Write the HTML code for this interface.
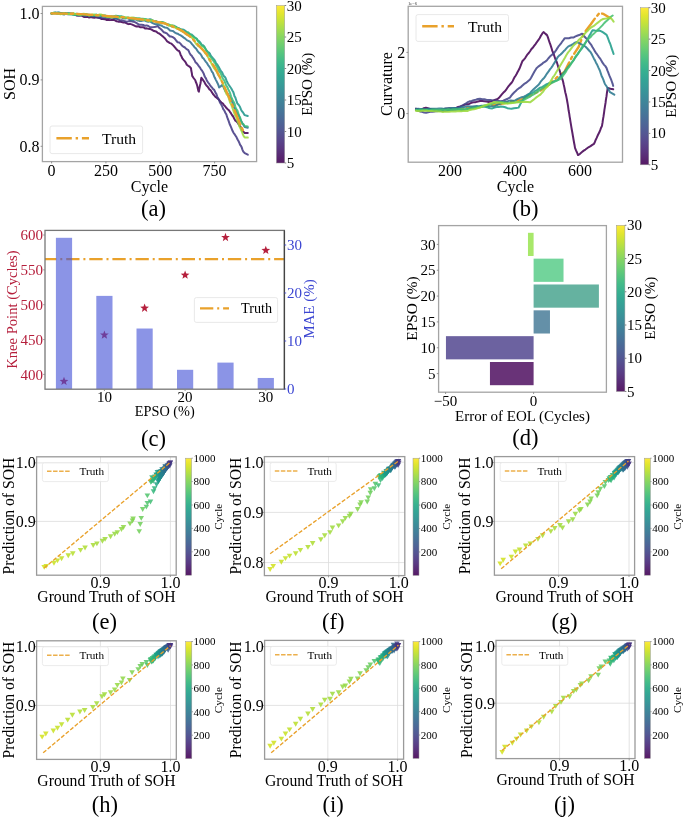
<!DOCTYPE html><html><head><meta charset="utf-8"><style>html,body{margin:0;padding:0;background:#fff;}svg{display:block;will-change:transform;filter:blur(0.25px);}text{font-family:"Liberation Serif", serif;}</style></head><body>
<svg width="685" height="818" viewBox="0 0 685 818">
<rect x="0" y="0" width="685" height="818" fill="#fff" stroke="none" stroke-width="1"/>
<defs><clipPath id="ca"><rect x="42.4" y="6.4" width="214.2" height="155.2"/></clipPath></defs>
<g clip-path="url(#ca)">
<polyline points="51.5,13.4 53.35,13.25 55.2,12.94 57.05,13.53 58.9,13.29 60.75,13.47 62.6,13.73 64.45,13.26 66.3,13.66 68.15,13.52 70,13.71 71.74,13.83 73.48,13.79 75.22,14.5 76.96,15.58 78.71,15.26 80.45,15.02 82.19,15.9 83.93,16.93 85.67,16.97 87.41,16.66 89.15,17.52 90.89,17.06 92.64,17.56 94.38,17.78 96.12,17.34 97.86,17.43 99.6,17.91 101.29,19.03 102.99,18.92 104.68,19.17 106.37,19.88 108.07,19.85 109.76,20.13 111.45,19.92 113.15,19.77 114.84,20.24 116.53,21.28 118.23,21.64 119.92,21.55 121.61,22.09 123.31,22.43 125,22.39 126.67,23.37 128.33,24.13 130,23.9 131.67,24.39 133.33,25.07 135,25.94 136.67,26.51 138.33,26.25 140,27.23 141.67,27.15 143.33,27.24 145,28.41 146.67,28.36 148.33,28.73 150,28.88 152.03,29.85 154.07,31.06 156.1,31.43 157.65,32.81 159.2,33.48 160.75,34.64 162.3,36 163.52,37.11 164.74,38.15 165.96,39.77 167.18,41.47 168.4,42.16 169.93,43.14 171.45,43.66 172.97,45.13 174.5,46.77 176.03,48.71 177.57,50.33 179.1,51 179.88,52.56 180.65,54.92 181.42,56.22 182.2,58.13 183.35,59.68 184.5,60.9 185.65,62.33 186.8,64.77 188.2,65.81 189.6,66.67 191,68.23 191.3,70.82 191.6,72.02 191.9,73.64 192.2,75.92 193.75,78.25 195.3,80.26 195.81,82.02 196.33,83.04 196.84,84.46 197.36,86.27 197.87,88.67 198.39,90.99 198.9,91.74 199.21,89.38 199.53,87.79 199.84,86.15 200.15,84.8 200.46,83.47 200.78,81.44 201.09,79.12 201.4,77.76 202.9,79.91 204.4,81.97 205.42,84.07 206.43,85.48 207.45,86.44 208.47,87.84 209.48,89.42 210.5,90.07 211.73,92.03 212.96,94.02 214.19,95.44 215.41,96.82 216.64,97.62 217.87,98.67 219.1,99.69 220.32,101.5 221.55,102.59 222.78,103.47 224,105.03 225.22,106.47 226.45,108.04 227.68,109.19 228.9,110.25 229.98,111.89 231.06,113.44 232.13,115.24 233.21,116.51 234.29,118.82 235.37,120.71 236.44,121.36 237.52,122.57 238.6,124.28 239.62,125.77 240.63,126.85 241.65,128.98 242.67,131.19 243.68,132.01 244.7,132.95 247.8,133" fill="none" stroke="#440154" stroke-width="2" stroke-linejoin="round" stroke-linecap="round" stroke-opacity="0.87"/>
<polyline points="51.5,13.4 53.35,12.91 55.2,12.63 57.05,13.02 58.9,13.19 60.75,13.93 62.6,13.6 64.45,12.89 66.3,14.06 68.15,14.37 70,13.56 71.74,13.92 73.48,13.77 75.22,14.15 76.96,15.36 78.71,15.78 80.45,15.64 82.19,15.09 83.93,15.03 85.67,15.03 87.41,15.83 89.15,16.22 90.89,16.51 92.64,16.31 94.38,15.96 96.12,16.81 97.86,17.74 99.6,17.89 101.29,17.93 102.99,18.13 104.68,18.26 106.37,17.73 108.07,17.88 109.76,18.14 111.45,17.79 113.15,17.72 114.84,18.27 116.53,18.69 118.23,19.46 119.92,20.41 121.61,20.19 123.31,20.61 125,21.33 126.67,21.74 128.33,21.35 130,21.05 131.67,21.35 133.33,21.73 135,22.12 136.67,23.1 138.33,24.24 140,24.82 141.67,24.71 143.33,25.03 145,25.79 146.67,25.39 148.33,25.93 150,27.18 151.93,27.23 153.85,27.08 155.77,26.69 157.7,26.06 159.23,27.87 160.77,29.07 162.3,30.55 163.82,32.27 165.34,32.74 166.86,33.32 168.38,35.12 169.9,36.39 171.45,36.61 173,37.22 174.55,38.36 176.1,40.53 177.62,42.21 179.15,42.4 180.67,43.87 182.2,45.82 183.42,46.75 184.64,47.28 185.86,48.49 187.08,49.34 188.3,50.03 189.45,52.72 190.6,54.66 191.75,55.74 192.9,57.7 193.82,58.93 194.74,60.61 195.66,62.48 196.58,63.17 197.5,64.22 198.65,65.83 199.8,67.33 200.95,69.26 202.1,70.66 202.87,72.11 203.63,73.41 204.4,75.72 205.17,77.2 205.93,78.38 206.7,80.17 208.1,82.61 209.12,83.67 210.13,85.31 211.15,86.62 212.17,87.71 213.18,89.14 214.2,89.89 214.96,91.53 215.72,93.1 216.49,94.18 217.25,96.61 218.01,98.02 218.78,99.4 219.54,101.54 220.3,103.07 221.06,104.14 221.83,105.72 222.59,107.46 223.35,109.32 224.11,110.16 224.88,111.68 225.64,113.2 226.4,114.48 227.08,116.92 227.76,118.76 228.43,120.35 229.11,122.42 229.79,124.55 230.47,125.82 231.14,127.39 231.82,129.15 232.5,130.82 233.52,132.7 234.53,134.17 235.55,135.7 236.57,137.33 237.58,139.53 238.6,141.25 239.36,142.95 240.12,144.87 240.89,145.7 241.65,147.17 242.41,149.61 243.17,151.49 243.94,152.15 244.7,153.18 247.8,154.7" fill="none" stroke="#443a83" stroke-width="2" stroke-linejoin="round" stroke-linecap="round" stroke-opacity="0.87"/>
<polyline points="51.5,13.4 53.35,13.36 55.2,12.86 57.05,12.8 58.9,12.77 60.75,13.45 62.6,14.16 64.45,14.45 66.3,13.61 68.15,13.74 70,14.2 71.74,13.6 73.48,14.25 75.22,15.14 76.96,14.36 78.71,14.8 80.45,14.84 82.19,14.6 83.93,15.47 85.67,15.83 87.41,14.94 89.15,14.84 90.89,15.31 92.64,15.28 94.38,15.07 96.12,15.23 97.86,16 99.6,15.56 101.29,15.82 102.99,16.3 104.68,15.81 106.37,16.02 108.07,16.85 109.76,17.13 111.45,16.6 113.15,17.59 114.84,18.31 116.53,18.54 118.23,17.73 119.92,17.34 121.61,17.35 123.31,18.3 125,18.44 126.79,18.05 128.57,18.56 130.36,19.7 132.14,20.25 133.93,19.68 135.71,19.28 137.5,20.44 139.29,20.9 141.07,21.01 142.86,20.56 144.64,20.23 146.43,21.27 148.21,21.72 150,21.27 151.84,22.7 153.68,23.66 155.52,24.22 157.36,24.02 159.2,25 161.12,25.42 163.05,26.55 164.97,27.48 166.9,27.75 168.42,28.85 169.94,30.45 171.46,30.83 172.98,30.99 174.5,32.31 176.04,33.2 177.58,33.69 179.12,34.57 180.66,35.39 182.2,36.41 183.74,37.61 185.28,38.62 186.82,40.13 188.36,40.83 189.9,41.62 191.05,42.9 192.2,44.36 193.35,45.6 194.5,47.15 196,48.57 197.5,50.85 199,52.77 200.15,53.66 201.3,55.24 202.45,57.63 203.6,58.46 204.75,60.22 205.9,61.89 207.05,63.18 208.2,65.24 209.12,66.47 210.04,67.75 210.96,69.61 211.88,71.68 212.8,72.62 213.43,74.3 214.07,76.17 214.7,77.56 215.33,78.79 215.97,80.11 216.6,81.28 217.43,82.95 218.27,84.77 219.1,87.44 220.6,86.44 222.1,84.94 223.18,86.31 224.25,88.78 225.32,91.04 226.4,92.35 227.38,93.36 228.36,94.67 229.34,96.4 230.32,98.36 231.3,99.81 232,101.5 232.7,103.08 233.4,105.42 234.1,107.62 234.8,108.64 235.5,109.43 236.2,111.69 237.02,113.09 237.83,114.21 238.65,115.42 239.47,117.24 240.28,119.33 241.1,121.08 242,122.38 242.9,124.19 243.8,125.48 244.7,127.05 247.8,127.8" fill="none" stroke="#2e6f8e" stroke-width="2" stroke-linejoin="round" stroke-linecap="round" stroke-opacity="0.87"/>
<polyline points="51.5,13.4 53.31,12.9 55.12,12.98 56.92,12.82 58.73,12.52 60.54,12.91 62.35,13.11 64.15,13.55 65.96,13.82 67.77,14.1 69.58,14.21 71.38,14.25 73.19,14.55 75,14.09 76.76,13.67 78.51,14.59 80.27,14.16 82.03,14.29 83.79,14.79 85.54,14.02 87.3,14.64 89.06,15.51 90.81,15.31 92.57,15.32 94.33,15.62 96.09,14.9 97.84,14.91 99.6,15.33 101.41,15.9 103.23,16.3 105.04,16.45 106.86,16.3 108.67,16.64 110.49,16.79 112.3,16.77 114.11,16.31 115.93,15.79 117.74,15.9 119.56,16.44 121.37,16.46 123.19,17.35 125,17.77 126.79,17.81 128.57,18.06 130.36,18.33 132.14,18.32 133.93,17.7 135.71,18.51 137.5,19.34 139.29,19.17 141.07,19.18 142.86,19.57 144.64,19.09 146.43,19.64 148.21,19.79 150,19.32 151.7,19.76 153.4,20.89 155.1,20.95 156.8,21.53 158.5,22.66 160.2,22.58 161.9,22.35 163.6,22.72 165.3,23.42 167.01,24.38 168.72,24.92 170.43,25.49 172.14,25.43 173.86,25.7 175.57,26.56 177.28,27.97 178.99,28.49 180.7,29.12 182.23,29.37 183.76,29.71 185.29,30.78 186.81,32.25 188.34,33.39 189.87,34.14 191.4,34.38 192.71,35.49 194.03,36.78 195.34,37.9 196.66,38.6 197.97,40.47 199.29,41.39 200.6,42.97 201.82,45.08 203.04,45.31 204.26,46.56 205.48,48.91 206.7,50.9 207.77,51.77 208.84,52.51 209.91,53.7 210.99,56.05 212.06,57.15 213.13,58.42 214.2,59.6 215.18,61.18 216.16,63.54 217.14,64.29 218.12,65.94 219.1,67.59 220.08,69.54 221.06,71.35 222.04,72.28 223.02,74.47 224,76.23 224.82,76.89 225.63,78.09 226.45,80.35 227.27,82.36 228.08,83.76 228.9,85.05 230.1,86.78 231.3,88.52 232.5,90.79 233.2,91.9 233.9,93.91 234.6,96.44 235.3,97.33 236,99.51 236.7,101.7 237.4,103.52 238.31,104.46 239.22,105.62 240.14,107.31 241.05,109.71 241.96,111.29 242.88,112.22 243.79,113.69 244.7,115.14 247.8,116" fill="none" stroke="#1f958b" stroke-width="2" stroke-linejoin="round" stroke-linecap="round" stroke-opacity="0.87"/>
<polyline points="51.5,13.4 53.31,12.84 55.12,12.55 56.92,13.61 58.73,13.57 60.54,13.98 62.35,13.68 64.15,13.14 65.96,13.52 67.77,13.35 69.58,13.34 71.38,14.31 73.19,14.77 75,14.65 76.76,14.45 78.51,14.78 80.27,15.17 82.03,14.78 83.79,14.77 85.54,14.14 87.3,14.56 89.06,14.9 90.81,15.15 92.57,15.38 94.33,14.92 96.09,14.4 97.84,15.46 99.6,15.28 101.41,15.19 103.23,15.47 105.04,15.45 106.86,16.14 108.67,16.99 110.49,16.4 112.3,16.44 114.11,16.47 115.93,16.65 117.74,16.81 119.56,16.52 121.37,16.46 123.19,16.67 125,17.78 126.79,18.05 128.57,17.53 130.36,18.39 132.14,19.31 133.93,18.87 135.71,18.18 137.5,18.18 139.29,18.29 141.07,18.73 142.86,18.82 144.64,19 146.43,19.35 148.21,19.98 150,20.87 151.7,21.31 153.4,21.09 155.1,21.14 156.8,21.63 158.5,21.88 160.2,22.04 161.9,21.99 163.6,22.38 165.3,23.82 167.01,24 168.72,24.43 170.43,25.61 172.14,26.7 173.86,26.73 175.57,26.91 177.28,27.61 178.99,28.47 180.7,29.34 182.23,30.82 183.76,31.9 185.29,32.61 186.81,32.28 188.34,32.32 189.87,33.99 191.4,35.61 192.71,36.41 194.03,37.39 195.34,37.92 196.66,39.12 197.97,41.37 199.29,42.91 200.6,44.06 201.82,45.78 203.04,46.46 204.26,47.18 205.48,48.66 206.7,50.73 207.75,52.76 208.8,54.74 209.85,56.18 210.9,57.39 211.95,58.98 213,60.18 213.98,61.75 214.96,62.88 215.94,65.13 216.92,66.78 217.9,68.92 218.72,70.78 219.53,71.7 220.35,72.79 221.17,74.41 221.98,76.64 222.8,78.68 223.6,79.6 224.4,80.66 225.2,82.85 226,84.96 226.8,86.39 227.6,87.64 228.3,89.56 229,90.69 229.7,92.12 230.4,94.16 231.1,96.53 231.8,98.12 232.5,99.73 233.2,101.15 233.9,102.21 234.6,103.76 235.3,106.46 236,108.49 236.7,109.48 237.4,110.5 238.1,112.62 238.8,115.01 239.5,116.58 240.2,117.88 240.9,120.02 241.6,122.47 242.3,123.51 243.5,124.19 244.7,125.98 247.8,126.6" fill="none" stroke="#3bbb75" stroke-width="2" stroke-linejoin="round" stroke-linecap="round" stroke-opacity="0.87"/>
<polyline points="51.5,13.4 53.31,13.33 55.12,13.65 56.92,13.28 58.73,13.68 60.54,14.17 62.35,13.85 64.15,13.28 65.96,14.07 67.77,13.91 69.58,14.04 71.38,13.75 73.19,13.26 75,14 76.76,13.97 78.51,14.53 80.27,14.61 82.03,13.91 83.79,13.8 85.54,14.19 87.3,14.8 89.06,15.49 90.81,14.79 92.57,14.52 94.33,14.61 96.09,15.56 97.84,15.24 99.6,14.49 101.41,14.58 103.23,15.19 105.04,16.3 106.86,16.89 108.67,16.83 110.49,17.2 112.3,17.51 114.11,16.81 115.93,16.25 117.74,17.27 119.56,17.84 121.37,16.88 123.19,17.25 125,17.58 126.79,17.53 128.57,17.68 130.36,17.64 132.14,17.48 133.93,17.91 135.71,18.45 137.5,19.52 139.29,19.16 141.07,19.75 142.86,19.69 144.64,19.43 146.43,20.38 148.21,21 150,20.69 151.7,20.19 153.4,20.76 155.1,21.34 156.8,22.32 158.5,22.19 160.2,22.12 161.9,23.32 163.6,22.98 165.3,23.07 167.01,24.64 168.72,25.65 170.43,25.36 172.14,25.43 173.86,26.17 175.57,28.04 177.28,28.63 178.99,29.4 180.7,30.74 182.23,31.21 183.76,31.7 185.29,33.62 186.81,34.84 188.34,35.15 189.87,36.51 191.4,37.45 192.5,38.34 193.6,39.25 194.7,41.3 195.8,43.47 196.9,44.54 198,46 199.55,46.44 201.1,47.28 202.65,49.16 204.2,51.38 205.08,53.29 205.96,54.03 206.83,54.84 207.71,56.44 208.59,58.17 209.47,60.29 210.34,61.18 211.22,62.83 212.1,64.78 212.96,66.32 213.82,67.8 214.68,69.02 215.54,69.99 216.4,71.21 217.25,72.79 218.1,74.92 218.95,75.89 219.8,76.96 220.65,79.33 221.5,80.69 222.2,81.75 222.9,83.29 223.6,85.69 224.3,87.59 225,89.99 225.7,92.19 226.4,93.98 227.1,94.86 227.8,95.73 228.5,97.33 229.2,99.61 229.9,101.99 230.6,103.57 231.3,104.8 232,106.6 232.7,108.77 233.4,110.76 234.1,112.65 234.8,114.59 235.5,116.18 236.2,117.04 236.81,119.19 237.42,120.78 238.04,122.33 238.65,123.99 239.26,125.98 239.88,127.26 240.49,128.53 241.1,130.24 242,131.82 242.9,134.4 243.8,136.34 244.7,137.44 247.8,137.6" fill="none" stroke="#9bd93c" stroke-width="2" stroke-linejoin="round" stroke-linecap="round" stroke-opacity="0.87"/>
<polyline points="51.5,13.4 75,13.8 99.6,15.4 125,17.5 150,20.4 165.3,23.6 180.7,30 191.4,37.5 195,41.6 201.1,48.3 206,53.2 210.3,60.6 215.2,67.9 220.7,78.9 225.2,88.5 230.1,99.8 235,111.3 239.9,123.5 244.1,132.7" fill="none" stroke="#e9a12b" stroke-width="2.3" stroke-linejoin="round" stroke-linecap="round" stroke-dasharray="15.4 3.85 2.4 3.85" stroke-linecap="butt"/>
</g>
<rect x="42.4" y="6.4" width="214.2" height="155.2" fill="none" stroke="#a4a4a4" stroke-width="1.3"/>
<line x1="51.6" y1="161.6" x2="51.6" y2="163.4" stroke="#888" stroke-width="0.9"/>
<text x="51.6" y="176.3" font-size="16" text-anchor="middle" fill="#000">0</text>
<line x1="105.93" y1="161.6" x2="105.93" y2="163.4" stroke="#888" stroke-width="0.9"/>
<text x="105.93" y="176.3" font-size="16" text-anchor="middle" fill="#000">250</text>
<line x1="160.26" y1="161.6" x2="160.26" y2="163.4" stroke="#888" stroke-width="0.9"/>
<text x="160.26" y="176.3" font-size="16" text-anchor="middle" fill="#000">500</text>
<line x1="214.59" y1="161.6" x2="214.59" y2="163.4" stroke="#888" stroke-width="0.9"/>
<text x="214.59" y="176.3" font-size="16" text-anchor="middle" fill="#000">750</text>
<line x1="40.6" y1="13.5" x2="42.4" y2="13.5" stroke="#888" stroke-width="0.9"/>
<text x="39.6" y="18.9" font-size="16" text-anchor="end" fill="#000">1.0</text>
<line x1="40.6" y1="79.9" x2="42.4" y2="79.9" stroke="#888" stroke-width="0.9"/>
<text x="39.6" y="85.3" font-size="16" text-anchor="end" fill="#000">0.9</text>
<line x1="40.6" y1="146.3" x2="42.4" y2="146.3" stroke="#888" stroke-width="0.9"/>
<text x="39.6" y="151.7" font-size="16" text-anchor="end" fill="#000">0.8</text>
<text x="149.5" y="192" font-size="16" text-anchor="middle" fill="#000">Cycle</text>
<text x="14.7" y="84" font-size="16" text-anchor="middle" fill="#000" transform="rotate(-90 14.7 84)">SOH</text>
<rect x="50" y="126" width="92.6" height="27.6" rx="2" ry="2" fill="#fff" fill-opacity="0.8" stroke="#e2e2e2" stroke-width="0.8"/>
<line x1="56.4" y1="138.3" x2="89" y2="138.3" stroke="#e9a12b" stroke-width="2.6" stroke-dasharray="15.4 3.85 2.4 3.85"/>
<text x="102" y="143.6" font-size="15.6" text-anchor="start" fill="#000">Truth</text>
<defs><linearGradient id="ga" x1="0" y1="1" x2="0" y2="0">
<stop offset="0" stop-color="#440154"/>
<stop offset="0.05" stop-color="#471365"/>
<stop offset="0.1" stop-color="#482475"/>
<stop offset="0.15" stop-color="#463480"/>
<stop offset="0.2" stop-color="#414487"/>
<stop offset="0.25" stop-color="#3b528b"/>
<stop offset="0.3" stop-color="#355f8d"/>
<stop offset="0.35" stop-color="#2f6c8e"/>
<stop offset="0.4" stop-color="#2a788e"/>
<stop offset="0.45" stop-color="#25848e"/>
<stop offset="0.5" stop-color="#21918c"/>
<stop offset="0.55" stop-color="#1e9c89"/>
<stop offset="0.6" stop-color="#22a884"/>
<stop offset="0.65" stop-color="#2fb47c"/>
<stop offset="0.7" stop-color="#44bf70"/>
<stop offset="0.75" stop-color="#5ec962"/>
<stop offset="0.8" stop-color="#7ad151"/>
<stop offset="0.85" stop-color="#9bd93c"/>
<stop offset="0.9" stop-color="#bddf26"/>
<stop offset="0.95" stop-color="#dfe318"/>
<stop offset="1" stop-color="#fde725"/>
</linearGradient></defs>
<rect x="276.4" y="5.5" width="8.3" height="157.5" fill="url(#ga)" stroke="#999" stroke-width="0.5" fill-opacity="0.9"/>
<line x1="284.7" y1="163" x2="286.2" y2="163" stroke="#666" stroke-width="0.8"/>
<text x="286.8" y="168.1" font-size="15" text-anchor="start" fill="#000">5</text>
<line x1="284.7" y1="131.5" x2="286.2" y2="131.5" stroke="#666" stroke-width="0.8"/>
<text x="286.8" y="136.6" font-size="15" text-anchor="start" fill="#000">10</text>
<line x1="284.7" y1="100" x2="286.2" y2="100" stroke="#666" stroke-width="0.8"/>
<text x="286.8" y="105.1" font-size="15" text-anchor="start" fill="#000">15</text>
<line x1="284.7" y1="68.5" x2="286.2" y2="68.5" stroke="#666" stroke-width="0.8"/>
<text x="286.8" y="73.6" font-size="15" text-anchor="start" fill="#000">20</text>
<line x1="284.7" y1="37" x2="286.2" y2="37" stroke="#666" stroke-width="0.8"/>
<text x="286.8" y="42.1" font-size="15" text-anchor="start" fill="#000">25</text>
<line x1="284.7" y1="5.5" x2="286.2" y2="5.5" stroke="#666" stroke-width="0.8"/>
<text x="286.8" y="10.6" font-size="15" text-anchor="start" fill="#000">30</text>
<text x="312" y="84.3" font-size="15" text-anchor="middle" fill="#000" transform="rotate(-90 312 84.3)">EPSO (%)</text>
<text x="153.4" y="215.6" font-size="22.5" text-anchor="middle" fill="#000">(a)</text>
<defs><clipPath id="cb"><rect x="408.2" y="6.3" width="214.3" height="155.9"/></clipPath></defs>
<g clip-path="url(#cb)">
<polyline points="416,110 450,110 480,107 500,104 520,100 540,91 550,84 557.6,76.8 564.6,71.6 571.6,57.6 578.6,47 583.8,33.5 590.8,24.3 595.2,18.1 599.6,12.9 603.1,13.8 610.1,18.1" fill="none" stroke="#e9a12b" stroke-width="2.4" stroke-linejoin="round" stroke-linecap="round" stroke-dasharray="15.4 3.85 2.4 3.85" stroke-linecap="butt"/>
<polyline points="416,108.6 418,109.13 420,110.08 421.93,109.29 423.87,108.16 425.8,107.69 427.9,108.32 430,108.95 432.1,108.99 434.2,109.33 436.3,110.2 438.49,110.14 440.68,109.97 442.86,109.2 445.05,108.76 447.24,108.53 449.43,108.28 451.61,108.6 453.8,108.46 456,107.85 458.2,106.95 460.4,106.36 462.6,105.63 464.78,104.67 466.95,104.28 469.12,103.97 471.3,102.84 473.48,102.37 475.65,102.17 477.82,101.49 480,100.99 482.2,101.11 484.4,101.25 486.6,101.51 488.8,101.96 491,101.49 493.2,100.57 495.4,99.6 497.6,99.07 499,97.86 500.4,96.11 501.8,94.4 503.2,92.8 504.6,91.56 506,89.92 507.4,87.75 508.8,85.82 510.2,84.3 511.6,82.79 512.6,81.16 513.6,79.08 514.6,77.13 515.6,75.75 516.6,74.04 517.6,72.07 518.6,70.28 519.38,68.83 520.16,66.82 520.94,64.82 521.72,62.92 522.5,60.98 523.76,59.68 525.01,58.33 526.27,56.34 527.53,54.33 528.79,52.97 530.04,51.23 531.3,49.24 532.7,47.81 534.1,45.95 535.5,44.06 536.9,42.02 538.3,40.21 539.6,38.19 540.9,35.86 542.2,33.68 543.5,32.02 545.25,33.62 547,35.13 547.66,36.68 548.33,38.65 548.99,40.69 549.65,42.65 550.31,44.44 550.97,46.35 551.64,48.54 552.3,50.89 553.06,52.53 553.81,54.42 554.57,56.8 555.33,59.04 556.09,60.61 556.84,62.22 557.6,64.73 558.25,67.07 558.9,68.72 559.55,70.19 560.2,72.53 560.85,74.53 561.5,76.59 562.15,78.59 562.8,80.57 563.22,82.19 563.64,84.28 564.06,86.15 564.48,87.99 564.9,90.34 565.32,92.49 565.74,94.03 566.16,95.73 566.58,97.84 567,99.97 567.33,102.01 567.67,103.87 568,105.92 568.33,108.37 568.67,110.78 569,112.37 569.33,114.42 569.67,116.86 570,118.56 570.33,120.85 570.67,122.81 571,124.9 571.36,127.17 571.73,129.29 572.09,131.2 572.45,133.23 572.82,135.47 573.18,137.53 573.55,139.71 573.91,141.76 574.27,143.75 574.64,145.57 575,147.87 576,150.38 577,152.49 578,155.06 580,153.8 582,152.1 583.71,150.63 585.43,149.56 587.14,148.3 588.86,147.01 590.57,146.08 592.29,144.84 594,143.78 594.89,141.98 595.78,139.7 596.67,137.89 597.56,135.78 598.44,133.97 599.33,132.29 600.22,130.13 601.11,127.71 602,125.81 602.3,123.92 602.6,122.24 602.9,119.96 603.2,118.08 603.5,116.48 603.8,114.37 604.1,112.31 604.4,109.94 604.7,108.18 605,106.21 605.3,104.3 605.6,102.48 605.9,99.96 606.2,98.04 606.5,96.41 606.8,93.9 607.1,91.71 607.4,90.1 607.7,87.89 610.45,88.71 613.2,89.2" fill="none" stroke="#440154" stroke-width="2" stroke-linejoin="round" stroke-linecap="round" stroke-opacity="0.87"/>
<polyline points="416,110 418,110.5 420,111.41 422,111.85 424,112.44 426.1,112.7 428.2,112.23 430.3,111.78 432.4,111.78 434.5,111.58 436.6,111.13 438.7,110.93 440.8,110.8 442.9,111.12 445,111.11 447,110.64 449,109.76 451,109.34 453,108.67 455,108.15 457,107.9 459,107.27 460.77,106.47 462.53,105.47 464.3,104.33 466.07,103.52 467.83,102.12 469.6,101.35 471.68,100.96 473.76,100.11 475.84,99.73 477.92,99.02 480,98.72 482.12,99.13 484.24,99.16 486.36,99.69 488.48,100.02 490.6,100.06 492.68,100.5 494.76,100.47 496.84,100.85 498.92,101 501,101.18 503.23,100.71 505.45,99.72 507.67,98.72 509.9,97.65 511.3,95.71 512.7,94.01 514.1,92.52 515.5,91.3 516.9,89.81 518.65,88.45 520.4,87.42 522.15,85.76 523.9,84.16 525.93,82.98 527.97,81.25 530,79.46 531.08,77.7 532.17,75.71 533.25,73.78 534.33,71.82 535.42,70.02 536.5,68.2 538.25,66.63 540,65.42 541.75,64.19 543.5,62.58 545.25,61.64 547,60.22 548.47,58.26 549.93,56.58 551.4,55.31 552.87,54.11 554.33,52.55 555.8,50.66 557.06,48.64 558.31,46.66 559.57,45.21 560.83,43.68 562.09,41.74 563.34,40.09 564.6,38.33 566.77,38.34 568.95,38.2 571.12,37.56 573.3,37.56 575.5,36.4 577.7,35.47 579.9,34.73 582.1,33.69 583.5,35.07 584.9,37.05 586.3,38.44 587.7,40.04 589.1,42.11 590.2,43.51 591.3,44.94 592.4,46.99 593.5,48.85 594.6,50.65 595.7,52.57 596.8,53.97 597.9,55.53 599.14,57.34 600.39,58.93 601.63,61.13 602.87,63.19 604.11,64.85 605.36,66.11 606.6,68.11 607.36,70.41 608.11,72.18 608.87,74.24 609.63,76.18 610.39,77.9 611.14,79.72 611.9,81.75 612.55,83.58 613.2,85.9" fill="none" stroke="#414487" stroke-width="2" stroke-linejoin="round" stroke-linecap="round" stroke-opacity="0.87"/>
<polyline points="416,109 418.1,108.85 420.2,109.01 422.3,109.12 424.4,109.16 426.5,109.1 428.6,108.71 430.7,108.66 432.8,108.67 434.9,108.81 437,108.75 439.1,108.43 441.2,108.52 443.3,108.86 445.4,108.47 447.5,108.54 449.6,108.23 451.7,107.97 453.8,108.02 455.8,108.07 457.8,108.16 459.8,107.84 461.8,107.21 463.8,107.12 465.8,106.73 467.8,106.15 470.06,106.43 472.31,106.41 474.57,106.2 476.83,106.08 479.09,106.15 481.34,105.82 483.6,105.71 485.7,105.96 487.8,106.18 489.9,106.16 492,106.34 494.1,106.55 496.2,105.42 498.3,104.37 500.4,103.71 502.5,102.66 504.6,102.09 506.7,101.61 508.8,100.85 510.9,100.51 513,100.75 515.1,100.39 517.3,99.12 519.5,98.08 521.7,97.17 523.9,96.73 525.93,95.71 527.97,94.46 530,93.24 531.66,91.16 533.32,89.55 534.98,87.97 536.64,86.51 538.3,85.05 539.61,83.46 540.92,81.31 542.24,79.84 543.55,78.59 544.86,76.99 546.17,74.81 547.49,72.87 548.8,71.21 549.9,69.37 551,68.12 552.1,66.71 553.2,64.83 554.3,63.12 555.4,61.33 556.5,59.27 557.6,57.24 559.1,55.64 560.6,54.56 562.1,52.98 563.6,51.29 565.1,49.9 566.6,48.16 568.1,46.63 569.84,45.71 571.58,44.97 573.32,43.89 575.06,42.66 576.8,42.03 579.13,43.17 581.47,44.37 583.8,45.53 585.55,46.79 587.3,48.54 589.05,50.47 590.8,52.45 591.81,54.32 592.83,56.37 593.84,58.42 594.86,60.13 595.87,62.41 596.89,64.19 597.9,66.33 598.68,68.17 599.46,69.71 600.23,71.72 601.01,74.12 601.79,76.45 602.57,77.85 603.34,79.69 604.12,81.85 604.9,83.99 606.17,85.77 607.45,87.76 608.73,89.85 610,92.15 612.15,93.34 614.3,94.7" fill="none" stroke="#2a788e" stroke-width="2" stroke-linejoin="round" stroke-linecap="round" stroke-opacity="0.87"/>
<polyline points="416,110 418.03,110.29 420.05,110.05 422.08,109.72 424.1,110.01 426.13,110.09 428.16,109.74 430.18,109.92 432.21,109.78 434.23,110.01 436.26,110.26 438.29,110.28 440.31,110.21 442.34,109.96 444.37,109.87 446.39,109.89 448.42,110.21 450.44,109.9 452.47,110.07 454.5,109.86 456.52,109.6 458.55,109.71 460.57,110.16 462.6,110.18 464.78,109.47 466.95,109.3 469.12,108.64 471.3,108.06 473.48,107.75 475.65,107.48 477.82,107.13 480,106.61 482.05,106.66 484.1,106.82 486.15,107 488.2,107.67 490.25,108.16 492.3,108.43 494.48,107.64 496.65,107.11 498.82,107 501,106.57 503.12,106.71 505.24,107.25 507.36,108.2 509.48,108.48 511.6,108.68 513.93,108.17 516.27,107.91 518.6,107.62 519.66,105.46 520.72,103.4 521.78,101.7 522.84,100.03 523.9,98.44 525.93,96.85 527.97,95.37 530,93.92 531.7,93.32 533.4,92.45 535.1,90.87 536.8,90.11 538.5,88.86 540.2,87.61 541.9,87.08 543.6,86.16 545.3,84.98 547.35,84.03 549.4,83 551.45,82.46 553.5,81.57 555.55,80.67 557.6,80.1 558.87,78.35 560.15,76.85 561.42,75.67 562.69,74.19 563.96,72.43 565.24,70.84 566.51,69.2 567.78,67.32 569.05,65.89 570.33,64.37 571.6,62.92 572.82,61.43 574.04,59.43 575.26,57.57 576.48,56 577.7,54.11 578.92,52.09 580.14,50.58 581.36,49.15 582.58,47.4 583.8,45.55 584.9,43.76 586,41.85 587.1,39.88 588.2,37.88 589.3,35.84 590.4,34.13 591.5,32.05 592.6,30.17 594.93,30.55 597.27,30.66 599.6,30.58 601.35,31.39 603.1,32.44 604.85,33.64 606.6,34.86 607.48,36.97 608.35,39.23 609.23,41.69 610.1,43.48 610.8,45.56 611.5,47.95 612.2,49.85 612.9,51.84 613.6,54" fill="none" stroke="#1e9c89" stroke-width="2" stroke-linejoin="round" stroke-linecap="round" stroke-opacity="0.87"/>
<polyline points="416,110 418.05,110.28 420.1,109.83 422.14,109.71 424.19,109.65 426.24,109.85 428.29,110.19 430.34,109.95 432.39,109.45 434.43,109.54 436.48,109.69 438.53,109.75 440.58,109.66 442.63,109.62 444.67,109.76 446.72,109.6 448.77,109.36 450.82,109.63 452.87,109.34 454.91,109.29 456.96,109.27 459.01,109.35 461.06,109.05 463.11,109.3 465.16,109.23 467.2,108.72 469.25,108.69 471.3,108.83 473.24,108.16 475.19,107.78 477.13,107.48 479.08,107.18 481.02,106.6 482.97,105.91 484.91,105.37 486.86,105.22 488.8,105.1 491,104.24 493.2,103.18 495.4,102.75 497.6,102.06 499.7,101.94 501.8,101.99 503.9,102.56 506,103.05 508.1,103.12 510.2,102.76 512.3,102.57 514.4,102.21 516.5,102.37 518.6,102.11 520.5,101.16 522.4,100.54 524.3,99.75 526.2,98.65 528.1,97.52 530,96.74 531.67,95.44 533.33,94.59 535,93.45 536.67,92.43 538.33,91.13 540,89.82 541.75,88.75 543.5,87.78 545.25,86.66 547,85.4 548.75,84.76 550.5,83.75 552.62,82.5 554.74,81.48 556.86,80.58 558.98,79.58 561.1,78.66 562.27,77.02 563.43,75.08 564.6,73.57 565.77,72.02 566.93,69.71 568.1,68.12 569.27,66.76 570.43,64.97 571.6,62.74 572.77,61.16 573.93,59.58 575.1,57.34 576.32,55.3 577.54,54.16 578.76,52.62 579.98,50.46 581.2,48.43 582.42,46.63 583.64,44.95 584.86,43.59 586.08,41.78 587.3,39.7 588.84,38.59 590.38,37.32 591.91,35.33 593.45,34.01 594.99,32.62 596.52,31.08 598.06,29.56 599.6,28.13 601.1,26.66 602.6,25.15 604.1,23.25 605.6,21.79 607.1,20.41 608.6,18.97 610.1,17.37 612.7,15.5" fill="none" stroke="#44bf70" stroke-width="2" stroke-linejoin="round" stroke-linecap="round" stroke-opacity="0.87"/>
<polyline points="416,110.8 418.07,111.12 420.14,111.13 422.21,110.86 424.29,110.78 426.36,110.77 428.43,111.02 430.5,110.96 432.57,111.1 434.64,111.13 436.71,111.28 438.79,111.5 440.86,111.6 442.93,111.89 445,111.53 447.07,111.63 449.15,111.67 451.22,111.48 453.29,111.51 455.36,111.59 457.44,111.28 459.51,111.02 461.58,111.31 463.65,110.89 465.73,110.79 467.8,110.95 469.83,109.97 471.87,109.5 473.9,109.22 475.93,108.83 477.97,107.96 480,107.54 482.01,106.76 484.03,105.78 486.04,105.28 488.06,104.14 490.07,103.45 492.09,102.94 494.1,101.95 496.1,102.42 498.1,102.59 500.1,102.7 502.1,103.03 504.1,103.48 506.1,103.47 508.1,103.63 510.3,103.27 512.5,102.9 514.7,102.69 516.9,102.01 519.08,102.13 521.27,102.08 523.45,101.96 525.63,101.85 527.82,101.9 530,102.32 531.67,101.14 533.33,99.93 535,98.52 536.67,97.14 538.33,95.95 540,94.97 541.47,93.41 542.93,91.81 544.4,89.67 545.87,88.08 547.33,86.77 548.8,84.9 549.9,82.56 551,80.65 552.1,78.7 553.2,76.83 554.3,75.53 555.4,73.78 556.5,71.81 557.6,70.06 558.65,68.45 559.7,66.55 560.75,64.68 561.8,62.94 562.85,61.24 563.9,59.45 564.95,57.71 566,55.69 567.05,54.03 568.1,52.35 569.41,50.92 570.73,49.08 572.04,47.3 573.35,45.7 574.66,44.59 575.98,43.47 577.29,41.82 578.6,39.98 580.12,38.63 581.65,37.28 583.17,35.59 584.7,33.77 586.23,32.14 587.75,30.71 589.27,29.17 590.8,27.67 592.56,26.61 594.31,25.63 596.07,23.93 597.83,22.62 599.59,21.24 601.34,19.8 603.1,19.04 605.43,18.62 607.77,18.18 610.1,17.45 611.85,19.11 613.6,21.6" fill="none" stroke="#9bd93c" stroke-width="2" stroke-linejoin="round" stroke-linecap="round" stroke-opacity="0.87"/>
</g>
<rect x="408.2" y="6.3" width="214.3" height="155.9" fill="none" stroke="#a4a4a4" stroke-width="1.3"/>
<line x1="450" y1="162.2" x2="450" y2="164" stroke="#888" stroke-width="0.9"/>
<text x="450" y="176.3" font-size="16" text-anchor="middle" fill="#000">200</text>
<line x1="515" y1="162.2" x2="515" y2="164" stroke="#888" stroke-width="0.9"/>
<text x="515" y="176.3" font-size="16" text-anchor="middle" fill="#000">400</text>
<line x1="580" y1="162.2" x2="580" y2="164" stroke="#888" stroke-width="0.9"/>
<text x="580" y="176.3" font-size="16" text-anchor="middle" fill="#000">600</text>
<line x1="406.4" y1="113.6" x2="408.2" y2="113.6" stroke="#888" stroke-width="0.9"/>
<text x="405.2" y="119" font-size="16" text-anchor="end" fill="#000">0</text>
<line x1="406.4" y1="52.4" x2="408.2" y2="52.4" stroke="#888" stroke-width="0.9"/>
<text x="405.2" y="57.8" font-size="16" text-anchor="end" fill="#000">2</text>
<text x="515.5" y="192" font-size="16" text-anchor="middle" fill="#000">Cycle</text>
<text x="392.4" y="84.1" font-size="16" text-anchor="middle" fill="#000" transform="rotate(-90 392.4 84.1)">Curvature</text>
<rect x="416" y="14.6" width="92.5" height="26.8" rx="2" ry="2" fill="#fff" fill-opacity="0.8" stroke="#e2e2e2" stroke-width="0.8"/>
<line x1="422.2" y1="26.2" x2="454" y2="26.2" stroke="#e9a12b" stroke-width="2.6" stroke-dasharray="15.4 3.85 2.4 3.85"/>
<text x="468" y="31.5" font-size="15.6" text-anchor="start" fill="#000">Truth</text>
<text x="407.9" y="5.3" font-size="4.6" text-anchor="start" fill="#333">1e−6</text>
<defs><linearGradient id="gb" x1="0" y1="1" x2="0" y2="0">
<stop offset="0" stop-color="#440154"/>
<stop offset="0.05" stop-color="#471365"/>
<stop offset="0.1" stop-color="#482475"/>
<stop offset="0.15" stop-color="#463480"/>
<stop offset="0.2" stop-color="#414487"/>
<stop offset="0.25" stop-color="#3b528b"/>
<stop offset="0.3" stop-color="#355f8d"/>
<stop offset="0.35" stop-color="#2f6c8e"/>
<stop offset="0.4" stop-color="#2a788e"/>
<stop offset="0.45" stop-color="#25848e"/>
<stop offset="0.5" stop-color="#21918c"/>
<stop offset="0.55" stop-color="#1e9c89"/>
<stop offset="0.6" stop-color="#22a884"/>
<stop offset="0.65" stop-color="#2fb47c"/>
<stop offset="0.7" stop-color="#44bf70"/>
<stop offset="0.75" stop-color="#5ec962"/>
<stop offset="0.8" stop-color="#7ad151"/>
<stop offset="0.85" stop-color="#9bd93c"/>
<stop offset="0.9" stop-color="#bddf26"/>
<stop offset="0.95" stop-color="#dfe318"/>
<stop offset="1" stop-color="#fde725"/>
</linearGradient></defs>
<rect x="640.3" y="7.7" width="8.5" height="157.1" fill="url(#gb)" stroke="#999" stroke-width="0.5" fill-opacity="0.9"/>
<line x1="648.8" y1="164.8" x2="650.3" y2="164.8" stroke="#666" stroke-width="0.8"/>
<text x="650.8" y="169.9" font-size="15" text-anchor="start" fill="#000">5</text>
<line x1="648.8" y1="133.38" x2="650.3" y2="133.38" stroke="#666" stroke-width="0.8"/>
<text x="650.8" y="138.48" font-size="15" text-anchor="start" fill="#000">10</text>
<line x1="648.8" y1="101.96" x2="650.3" y2="101.96" stroke="#666" stroke-width="0.8"/>
<text x="650.8" y="107.06" font-size="15" text-anchor="start" fill="#000">15</text>
<line x1="648.8" y1="70.54" x2="650.3" y2="70.54" stroke="#666" stroke-width="0.8"/>
<text x="650.8" y="75.64" font-size="15" text-anchor="start" fill="#000">20</text>
<line x1="648.8" y1="39.12" x2="650.3" y2="39.12" stroke="#666" stroke-width="0.8"/>
<text x="650.8" y="44.22" font-size="15" text-anchor="start" fill="#000">25</text>
<line x1="648.8" y1="7.7" x2="650.3" y2="7.7" stroke="#666" stroke-width="0.8"/>
<text x="650.8" y="12.8" font-size="15" text-anchor="start" fill="#000">30</text>
<text x="675.9" y="86.2" font-size="15" text-anchor="middle" fill="#000" transform="rotate(-90 675.9 86.2)">EPSO (%)</text>
<text x="525.3" y="215.6" font-size="22.5" text-anchor="middle" fill="#000">(b)</text>
<line x1="45" y1="259.2" x2="284.4" y2="259.2" stroke="#e9a12b" stroke-width="2.3" stroke-dasharray="13.3 3.9 2 3.9" stroke-dashoffset="1.9"/>
<polygon points="64,376.77 65.14,379.81 68.37,379.95 65.84,381.97 66.7,385.09 64,383.3 61.3,385.09 62.16,381.97 59.63,379.95 62.86,379.81" fill="#b51f3c"/>
<polygon points="104.4,330.42 105.54,333.46 108.77,333.6 106.24,335.62 107.1,338.74 104.4,336.95 101.7,338.74 102.56,335.62 100.03,333.6 103.26,333.46" fill="#b51f3c"/>
<polygon points="144.6,303.58 145.74,306.62 148.97,306.76 146.44,308.78 147.3,311.91 144.6,310.12 141.9,311.91 142.76,308.78 140.23,306.76 143.46,306.62" fill="#b51f3c"/>
<polygon points="185.1,270.48 186.24,273.51 189.47,273.66 186.94,275.67 187.8,278.8 185.1,277.01 182.4,278.8 183.26,275.67 180.73,273.66 183.96,273.51" fill="#b51f3c"/>
<polygon points="225.5,232.84 226.64,235.88 229.87,236.02 227.34,238.04 228.2,241.16 225.5,239.37 222.8,241.16 223.66,238.04 221.13,236.02 224.36,235.88" fill="#b51f3c"/>
<polygon points="265.8,245.73 266.94,248.77 270.17,248.91 267.64,250.93 268.5,254.06 265.8,252.27 263.1,254.06 263.96,250.93 261.43,248.91 264.66,248.77" fill="#b51f3c"/>
<rect x="55.9" y="237.8" width="16.2" height="151.2" fill="#4453d6" stroke="none" stroke-width="1" fill-opacity="0.62"/>
<rect x="96.3" y="295.88" width="16.2" height="93.12" fill="#4453d6" stroke="none" stroke-width="1" fill-opacity="0.62"/>
<rect x="136.5" y="328.52" width="16.2" height="60.48" fill="#4453d6" stroke="none" stroke-width="1" fill-opacity="0.62"/>
<rect x="177" y="369.8" width="16.2" height="19.2" fill="#4453d6" stroke="none" stroke-width="1" fill-opacity="0.62"/>
<rect x="217.4" y="362.6" width="16.2" height="26.4" fill="#4453d6" stroke="none" stroke-width="1" fill-opacity="0.62"/>
<rect x="257.7" y="377.96" width="16.2" height="11.04" fill="#4453d6" stroke="none" stroke-width="1" fill-opacity="0.62"/>
<rect x="45" y="230.4" width="239.4" height="158.8" fill="none" stroke="#777" stroke-width="1.3"/>
<line x1="284.4" y1="230.4" x2="284.4" y2="389.2" stroke="#444" stroke-width="1.3"/>
<line x1="43.2" y1="374.4" x2="45" y2="374.4" stroke="#888" stroke-width="0.9"/>
<text x="42.9" y="379.5" font-size="15" text-anchor="end" fill="#b51f3c">400</text>
<line x1="43.2" y1="339.55" x2="45" y2="339.55" stroke="#888" stroke-width="0.9"/>
<text x="42.9" y="344.65" font-size="15" text-anchor="end" fill="#b51f3c">450</text>
<line x1="43.2" y1="304.7" x2="45" y2="304.7" stroke="#888" stroke-width="0.9"/>
<text x="42.9" y="309.8" font-size="15" text-anchor="end" fill="#b51f3c">500</text>
<line x1="43.2" y1="269.85" x2="45" y2="269.85" stroke="#888" stroke-width="0.9"/>
<text x="42.9" y="274.95" font-size="15" text-anchor="end" fill="#b51f3c">550</text>
<line x1="43.2" y1="235" x2="45" y2="235" stroke="#888" stroke-width="0.9"/>
<text x="42.9" y="240.1" font-size="15" text-anchor="end" fill="#b51f3c">600</text>
<line x1="284.4" y1="389" x2="286.2" y2="389" stroke="#3c46d2" stroke-width="0.9"/>
<text x="287" y="394.1" font-size="15" text-anchor="start" fill="#3c46d2">0</text>
<line x1="284.4" y1="341" x2="286.2" y2="341" stroke="#3c46d2" stroke-width="0.9"/>
<text x="287" y="346.1" font-size="15" text-anchor="start" fill="#3c46d2">10</text>
<line x1="284.4" y1="293" x2="286.2" y2="293" stroke="#3c46d2" stroke-width="0.9"/>
<text x="287" y="298.1" font-size="15" text-anchor="start" fill="#3c46d2">20</text>
<line x1="284.4" y1="245" x2="286.2" y2="245" stroke="#3c46d2" stroke-width="0.9"/>
<text x="287" y="250.1" font-size="15" text-anchor="start" fill="#3c46d2">30</text>
<line x1="104.4" y1="389.2" x2="104.4" y2="391" stroke="#888" stroke-width="0.9"/>
<text x="104.4" y="401.8" font-size="15" text-anchor="middle" fill="#000">10</text>
<line x1="185.1" y1="389.2" x2="185.1" y2="391" stroke="#888" stroke-width="0.9"/>
<text x="185.1" y="401.8" font-size="15" text-anchor="middle" fill="#000">20</text>
<line x1="265.8" y1="389.2" x2="265.8" y2="391" stroke="#888" stroke-width="0.9"/>
<text x="265.8" y="401.8" font-size="15" text-anchor="middle" fill="#000">30</text>
<text x="164.8" y="416" font-size="14.3" text-anchor="middle" fill="#000">EPSO (%)</text>
<text x="17.2" y="309.6" font-size="14.6" text-anchor="middle" fill="#b51f3c" transform="rotate(-90 17.2 309.6)">Knee Point (Cycles)</text>
<text x="314" y="309" font-size="15" text-anchor="middle" fill="#3c46d2" transform="rotate(-90 314 309)">MAE (%)</text>
<rect x="194.4" y="297.6" width="83.2" height="24.8" rx="2" ry="2" fill="#fff" fill-opacity="0.8" stroke="#e2e2e2" stroke-width="0.8"/>
<line x1="200" y1="308.4" x2="229" y2="308.4" stroke="#e9a12b" stroke-width="2.3" stroke-dasharray="13.3 3.9 2 3.9"/>
<text x="241" y="313.23" font-size="14.2" text-anchor="start" fill="#000">Truth</text>
<text x="153.4" y="445.6" font-size="22.5" text-anchor="middle" fill="#000">(c)</text>
<rect x="489.95" y="362" width="43.65" height="23.2" fill="#693378" stroke="none" stroke-width="1"/>
<rect x="445.95" y="336.16" width="87.65" height="23.2" fill="#6c62a0" stroke="none" stroke-width="1"/>
<rect x="533.6" y="310.32" width="16.37" height="23.2" fill="#6490a8" stroke="none" stroke-width="1"/>
<rect x="533.6" y="284.48" width="65.3" height="23.2" fill="#65b2a0" stroke="none" stroke-width="1"/>
<rect x="533.6" y="258.64" width="29.92" height="23.2" fill="#72d49b" stroke="none" stroke-width="1"/>
<rect x="527.97" y="232.8" width="5.63" height="23.2" fill="#a8e86a" stroke="none" stroke-width="1"/>
<rect x="438.6" y="225.6" width="167.8" height="166.6" fill="none" stroke="#a4a4a4" stroke-width="1.3"/>
<line x1="436.8" y1="373.6" x2="438.6" y2="373.6" stroke="#888" stroke-width="0.9"/>
<text x="435.4" y="378.7" font-size="15" text-anchor="end" fill="#000">5</text>
<line x1="436.8" y1="347.76" x2="438.6" y2="347.76" stroke="#888" stroke-width="0.9"/>
<text x="435.4" y="352.86" font-size="15" text-anchor="end" fill="#000">10</text>
<line x1="436.8" y1="321.92" x2="438.6" y2="321.92" stroke="#888" stroke-width="0.9"/>
<text x="435.4" y="327.02" font-size="15" text-anchor="end" fill="#000">15</text>
<line x1="436.8" y1="296.08" x2="438.6" y2="296.08" stroke="#888" stroke-width="0.9"/>
<text x="435.4" y="301.18" font-size="15" text-anchor="end" fill="#000">20</text>
<line x1="436.8" y1="270.24" x2="438.6" y2="270.24" stroke="#888" stroke-width="0.9"/>
<text x="435.4" y="275.34" font-size="15" text-anchor="end" fill="#000">25</text>
<line x1="436.8" y1="244.4" x2="438.6" y2="244.4" stroke="#888" stroke-width="0.9"/>
<text x="435.4" y="249.5" font-size="15" text-anchor="end" fill="#000">30</text>
<line x1="445.6" y1="392.2" x2="445.6" y2="394" stroke="#888" stroke-width="0.9"/>
<text x="445.6" y="405.6" font-size="15" text-anchor="middle" fill="#000">−50</text>
<line x1="533.6" y1="392.2" x2="533.6" y2="394" stroke="#888" stroke-width="0.9"/>
<text x="533.6" y="405.6" font-size="15" text-anchor="middle" fill="#000">0</text>
<text x="522.5" y="420.8" font-size="15" text-anchor="middle" fill="#000">Error of EOL (Cycles)</text>
<text x="416.9" y="308.6" font-size="15.3" text-anchor="middle" fill="#000" transform="rotate(-90 416.9 308.6)">EPSO (%)</text>
<defs><linearGradient id="gd" x1="0" y1="1" x2="0" y2="0">
<stop offset="0" stop-color="#440154"/>
<stop offset="0.05" stop-color="#471365"/>
<stop offset="0.1" stop-color="#482475"/>
<stop offset="0.15" stop-color="#463480"/>
<stop offset="0.2" stop-color="#414487"/>
<stop offset="0.25" stop-color="#3b528b"/>
<stop offset="0.3" stop-color="#355f8d"/>
<stop offset="0.35" stop-color="#2f6c8e"/>
<stop offset="0.4" stop-color="#2a788e"/>
<stop offset="0.45" stop-color="#25848e"/>
<stop offset="0.5" stop-color="#21918c"/>
<stop offset="0.55" stop-color="#1e9c89"/>
<stop offset="0.6" stop-color="#22a884"/>
<stop offset="0.65" stop-color="#2fb47c"/>
<stop offset="0.7" stop-color="#44bf70"/>
<stop offset="0.75" stop-color="#5ec962"/>
<stop offset="0.8" stop-color="#7ad151"/>
<stop offset="0.85" stop-color="#9bd93c"/>
<stop offset="0.9" stop-color="#bddf26"/>
<stop offset="0.95" stop-color="#dfe318"/>
<stop offset="1" stop-color="#fde725"/>
</linearGradient></defs>
<rect x="616.4" y="225.3" width="8.5" height="166.2" fill="url(#gd)" stroke="#999" stroke-width="0.5" fill-opacity="0.9"/>
<line x1="624.9" y1="391.5" x2="626.4" y2="391.5" stroke="#666" stroke-width="0.8"/>
<text x="627" y="396.6" font-size="15" text-anchor="start" fill="#000">5</text>
<line x1="624.9" y1="358.26" x2="626.4" y2="358.26" stroke="#666" stroke-width="0.8"/>
<text x="627" y="363.36" font-size="15" text-anchor="start" fill="#000">10</text>
<line x1="624.9" y1="325.02" x2="626.4" y2="325.02" stroke="#666" stroke-width="0.8"/>
<text x="627" y="330.12" font-size="15" text-anchor="start" fill="#000">15</text>
<line x1="624.9" y1="291.78" x2="626.4" y2="291.78" stroke="#666" stroke-width="0.8"/>
<text x="627" y="296.88" font-size="15" text-anchor="start" fill="#000">20</text>
<line x1="624.9" y1="258.54" x2="626.4" y2="258.54" stroke="#666" stroke-width="0.8"/>
<text x="627" y="263.64" font-size="15" text-anchor="start" fill="#000">25</text>
<line x1="624.9" y1="225.3" x2="626.4" y2="225.3" stroke="#666" stroke-width="0.8"/>
<text x="627" y="230.4" font-size="15" text-anchor="start" fill="#000">30</text>
<text x="655" y="308.3" font-size="15" text-anchor="middle" fill="#000" transform="rotate(-90 655 308.3)">EPSO (%)</text>
<text x="525.3" y="444.7" font-size="22.5" text-anchor="middle" fill="#000">(d)</text>
<defs><clipPath id="ce"><rect x="36.6" y="456.8" width="139.6" height="118.4"/></clipPath></defs>
<line x1="100.5" y1="456.8" x2="100.5" y2="575.2" stroke="#dcdcdc" stroke-width="0.8"/>
<line x1="170.4" y1="456.8" x2="170.4" y2="575.2" stroke="#dcdcdc" stroke-width="0.8"/>
<line x1="36.6" y1="462.9" x2="176.2" y2="462.9" stroke="#dcdcdc" stroke-width="0.8"/>
<line x1="36.6" y1="521.4" x2="176.2" y2="521.4" stroke="#dcdcdc" stroke-width="0.8"/>
<g clip-path="url(#ce)">
<polygon points="41.37,564.93 46.97,564.93 44.17,569.83" fill="#d2e21b" fill-opacity="0.85"/>
<polygon points="43.42,563.91 49.02,563.91 46.22,568.81" fill="#d0e11c" fill-opacity="0.85"/>
<polygon points="51.18,560.85 56.78,560.85 53.98,565.75" fill="#c8e020" fill-opacity="0.85"/>
<polygon points="54.66,558.39 60.26,558.39 57.46,563.29" fill="#c5e021" fill-opacity="0.85"/>
<polygon points="58.75,556.35 64.35,556.35 61.55,561.25" fill="#c0df25" fill-opacity="0.85"/>
<polygon points="65.49,553.28 71.09,553.28 68.29,558.18" fill="#bade28" fill-opacity="0.85"/>
<polygon points="69.99,551.24 75.59,551.24 72.79,556.14" fill="#b5de2b" fill-opacity="0.85"/>
<polygon points="77.75,547.97 83.35,547.97 80.55,552.87" fill="#b0dd2f" fill-opacity="0.85"/>
<polygon points="82.25,545.52 87.85,545.52 85.05,550.42" fill="#addc30" fill-opacity="0.85"/>
<polygon points="90.42,543.07 96.02,543.07 93.22,547.97" fill="#a8db34" fill-opacity="0.85"/>
<polygon points="94.1,541.43 99.7,541.43 96.9,546.33" fill="#a5db36" fill-opacity="0.85"/>
<polygon points="99.62,538.77 105.22,538.77 102.42,543.67" fill="#a0da39" fill-opacity="0.85"/>
<polygon points="102.28,536.93 107.88,536.93 105.08,541.83" fill="#9dd93b" fill-opacity="0.85"/>
<polygon points="107.8,534.28 113.4,534.28 110.6,539.18" fill="#9bd93c" fill-opacity="0.85"/>
<polygon points="111.88,531.83 117.48,531.83 114.68,536.73" fill="#95d840" fill-opacity="0.85"/>
<polygon points="114.54,530.19 120.14,530.19 117.34,535.09" fill="#95d840" fill-opacity="0.85"/>
<polygon points="118.63,527.12 124.23,527.12 121.43,532.02" fill="#90d743" fill-opacity="0.85"/>
<polygon points="120.67,525.08 126.27,525.08 123.47,529.98" fill="#8ed645" fill-opacity="0.85"/>
<polygon points="127.21,521.4 132.81,521.4 130.01,526.3" fill="#84d44b" fill-opacity="0.85"/>
<polygon points="129.66,518.54 135.26,518.54 132.46,523.44" fill="#7fd34e" fill-opacity="0.85"/>
<polygon points="130.28,516.5 135.88,516.5 133.08,521.4" fill="#7fd34e" fill-opacity="0.85"/>
<polygon points="136.41,529.17 142.01,529.17 139.21,534.07" fill="#70cf57" fill-opacity="0.85"/>
<polygon points="137.43,522.02 143.03,522.02 140.23,526.92" fill="#6ece58" fill-opacity="0.85"/>
<polygon points="138.45,515.88 144.05,515.88 141.25,520.78" fill="#6ccd5a" fill-opacity="0.85"/>
<polygon points="139.88,507.1 145.48,507.1 142.68,512" fill="#67cc5c" fill-opacity="0.85"/>
<polygon points="143.56,504.64 149.16,504.64 146.36,509.54" fill="#52c569" fill-opacity="0.85"/>
<polygon points="144.58,500.96 150.18,500.96 147.38,505.86" fill="#4ec36b" fill-opacity="0.85"/>
<polygon points="144.58,493.4 150.18,493.4 147.38,498.3" fill="#4ec36b" fill-opacity="0.85"/>
<polygon points="147.65,499.53 153.25,499.53 150.45,504.43" fill="#3fbc73" fill-opacity="0.85"/>
<polygon points="148.03,479.91 153.63,479.91 150.83,484.81" fill="#3dbc74" fill-opacity="0.85"/>
<polygon points="148.62,479.04 154.22,479.04 151.42,483.94" fill="#3aba76" fill-opacity="0.85"/>
<polygon points="149.21,475.24 154.81,475.24 152.01,480.14" fill="#38b977" fill-opacity="0.85"/>
<polygon points="149.81,478.19 155.41,478.19 152.61,483.09" fill="#35b779" fill-opacity="0.85"/>
<polygon points="150.4,478.87 156,478.87 153.2,483.77" fill="#34b679" fill-opacity="0.85"/>
<polygon points="150.71,489.32 156.31,489.32 153.51,494.22" fill="#32b67a" fill-opacity="0.85"/>
<polygon points="150.99,476.09 156.59,476.09 153.79,480.99" fill="#31b57b" fill-opacity="0.85"/>
<polygon points="151.59,475.74 157.19,475.74 154.39,480.64" fill="#2eb37c" fill-opacity="0.85"/>
<polygon points="151.74,486.25 157.34,486.25 154.54,491.15" fill="#2eb37c" fill-opacity="0.85"/>
<polygon points="152.18,474.51 157.78,474.51 154.98,479.41" fill="#2ab07f" fill-opacity="0.85"/>
<polygon points="152.77,475.33 158.37,475.33 155.57,480.23" fill="#26ad81" fill-opacity="0.85"/>
<polygon points="153.37,472.4 158.97,472.4 156.17,477.3" fill="#23a983" fill-opacity="0.85"/>
<polygon points="153.78,482.31 159.38,482.31 156.58,487.21" fill="#21a685" fill-opacity="0.85"/>
<polygon points="153.96,472.98 159.56,472.98 156.76,477.88" fill="#21a585" fill-opacity="0.85"/>
<polygon points="154.55,469.91 160.15,469.91 157.35,474.81" fill="#1fa187" fill-opacity="0.85"/>
<polygon points="155.15,471.94 160.75,471.94 157.95,476.84" fill="#1f9e89" fill-opacity="0.85"/>
<polygon points="155.42,479.39 161.02,479.39 158.22,484.29" fill="#1e9d89" fill-opacity="0.85"/>
<polygon points="155.74,471.8 161.34,471.8 158.54,476.7" fill="#1e9b8a" fill-opacity="0.85"/>
<polygon points="155.77,478.66 161.37,478.66 158.57,483.56" fill="#1f9a8a" fill-opacity="0.85"/>
<polygon points="156.13,477.93 161.73,477.93 158.93,482.83" fill="#1f988b" fill-opacity="0.85"/>
<polygon points="156.33,469.75 161.93,469.75 159.13,474.65" fill="#1f978b" fill-opacity="0.85"/>
<polygon points="156.49,477.19 162.09,477.19 159.29,482.09" fill="#1f968b" fill-opacity="0.85"/>
<polygon points="156.85,476.46 162.45,476.46 159.65,481.36" fill="#20938c" fill-opacity="0.85"/>
<polygon points="156.92,469.92 162.52,469.92 159.72,474.82" fill="#20938c" fill-opacity="0.85"/>
<polygon points="157.2,475.89 162.8,475.89 160,480.79" fill="#20928c" fill-opacity="0.85"/>
<polygon points="157.52,471.52 163.12,471.52 160.32,476.42" fill="#21908d" fill-opacity="0.85"/>
<polygon points="157.56,475.31 163.16,475.31 160.36,480.21" fill="#21908d" fill-opacity="0.85"/>
<polygon points="157.92,474.73 163.52,474.73 160.72,479.63" fill="#228d8d" fill-opacity="0.85"/>
<polygon points="158.11,468.93 163.71,468.93 160.91,473.83" fill="#228c8d" fill-opacity="0.85"/>
<polygon points="158.28,474.16 163.88,474.16 161.08,479.06" fill="#228b8d" fill-opacity="0.85"/>
<polygon points="158.69,473.68 164.29,473.68 161.49,478.58" fill="#23888e" fill-opacity="0.85"/>
<polygon points="158.7,470.31 164.3,470.31 161.5,475.21" fill="#23888e" fill-opacity="0.85"/>
<polygon points="159.09,473.21 164.69,473.21 161.89,478.11" fill="#24868e" fill-opacity="0.85"/>
<polygon points="159.3,467.3 164.9,467.3 162.1,472.2" fill="#25858e" fill-opacity="0.85"/>
<polygon points="159.5,472.73 165.1,472.73 162.3,477.63" fill="#25838e" fill-opacity="0.85"/>
<polygon points="159.89,469.12 165.49,469.12 162.69,474.02" fill="#26828e" fill-opacity="0.85"/>
<polygon points="159.91,472.26 165.51,472.26 162.71,477.16" fill="#26828e" fill-opacity="0.85"/>
<polygon points="160.42,471.37 166.02,471.37 163.22,476.27" fill="#277e8e" fill-opacity="0.85"/>
<polygon points="160.48,467.35 166.08,467.35 163.28,472.25" fill="#277e8e" fill-opacity="0.85"/>
<polygon points="160.93,470.49 166.53,470.49 163.73,475.39" fill="#297b8e" fill-opacity="0.85"/>
<polygon points="161.08,468.31 166.68,468.31 163.88,473.21" fill="#297a8e" fill-opacity="0.85"/>
<polygon points="161.44,469.61 167.04,469.61 164.24,474.51" fill="#2a778e" fill-opacity="0.85"/>
<polygon points="161.67,466.31 167.27,466.31 164.47,471.21" fill="#2b758e" fill-opacity="0.85"/>
<polygon points="161.96,468.72 167.56,468.72 164.76,473.62" fill="#2c738e" fill-opacity="0.85"/>
<polygon points="162.26,464.4 167.86,464.4 165.06,469.3" fill="#2c718e" fill-opacity="0.85"/>
<polygon points="162.47,467.99 168.07,467.99 165.27,472.89" fill="#2d708e" fill-opacity="0.85"/>
<polygon points="162.86,464.16 168.46,464.16 165.66,469.06" fill="#2e6e8e" fill-opacity="0.85"/>
<polygon points="162.98,467.26 168.58,467.26 165.78,472.16" fill="#2e6d8e" fill-opacity="0.85"/>
<polygon points="163.45,465.97 169.05,465.97 166.25,470.87" fill="#30698e" fill-opacity="0.85"/>
<polygon points="163.49,466.53 169.09,466.53 166.29,471.43" fill="#30698e" fill-opacity="0.85"/>
<polygon points="164,465.8 169.6,465.8 166.8,470.7" fill="#32658e" fill-opacity="0.85"/>
<polygon points="164.04,466.34 169.64,466.34 166.84,471.24" fill="#32658e" fill-opacity="0.85"/>
<polygon points="164.51,465.07 170.11,465.07 167.31,469.97" fill="#34618d" fill-opacity="0.85"/>
<polygon points="164.63,463.13 170.23,463.13 167.43,468.03" fill="#34618d" fill-opacity="0.85"/>
<polygon points="165.02,464.34 170.62,464.34 167.82,469.24" fill="#355e8d" fill-opacity="0.85"/>
<polygon points="165.23,464.41 170.83,464.41 168.03,469.31" fill="#365c8d" fill-opacity="0.85"/>
<polygon points="165.53,463.61 171.13,463.61 168.33,468.51" fill="#375a8c" fill-opacity="0.85"/>
<polygon points="165.82,463.98 171.42,463.98 168.62,468.88" fill="#3a548c" fill-opacity="0.85"/>
<polygon points="166.04,462.88 171.64,462.88 168.84,467.78" fill="#3b518b" fill-opacity="0.85"/>
<polygon points="166.3,462.41 171.9,462.41 169.1,467.31" fill="#3d4d8a" fill-opacity="0.85"/>
<polygon points="166.41,461.54 172.01,461.54 169.21,466.44" fill="#3e4a89" fill-opacity="0.85"/>
<polygon points="166.55,461.93 172.15,461.93 169.35,466.83" fill="#3f4889" fill-opacity="0.85"/>
<polygon points="166.81,461.46 172.41,461.46 169.61,466.36" fill="#414287" fill-opacity="0.85"/>
<polygon points="167.01,463.5 172.61,463.5 169.81,468.4" fill="#423f85" fill-opacity="0.85"/>
<polygon points="167.06,460.98 172.66,460.98 169.86,465.88" fill="#433e85" fill-opacity="0.85"/>
<polygon points="167.6,460.31 173.2,460.31 170.4,465.21" fill="#463480" fill-opacity="0.85"/>
<line x1="44.17" y1="568" x2="170.48" y2="462.13" stroke="#e9a12b" stroke-width="1.35" stroke-dasharray="4.1 1.8"/>
</g>
<rect x="36.6" y="456.8" width="139.6" height="118.4" fill="none" stroke="#9a9a9a" stroke-width="1.3"/>
<line x1="34.8" y1="462.9" x2="36.6" y2="462.9" stroke="#888" stroke-width="0.8"/>
<text x="35.7" y="468.3" font-size="16" text-anchor="end" fill="#000">1.0</text>
<line x1="34.8" y1="521.4" x2="36.6" y2="521.4" stroke="#888" stroke-width="0.8"/>
<text x="35.7" y="526.8" font-size="16" text-anchor="end" fill="#000">0.9</text>
<line x1="100.5" y1="575.2" x2="100.5" y2="577" stroke="#888" stroke-width="0.8"/>
<text x="100.5" y="587.8" font-size="16" text-anchor="middle" fill="#000">0.9</text>
<line x1="170.4" y1="575.2" x2="170.4" y2="577" stroke="#888" stroke-width="0.8"/>
<text x="170.4" y="587.8" font-size="16" text-anchor="middle" fill="#000">1.0</text>
<text x="106.4" y="601.6" font-size="15.7" text-anchor="middle" fill="#000">Ground Truth of SOH</text>
<text x="13.8" y="516" font-size="15.7" text-anchor="middle" fill="#000" transform="rotate(-90 13.8 516)">Prediction of SOH</text>
<rect x="42.4" y="462.8" width="66" height="18.8" rx="2" ry="2" fill="#fff" fill-opacity="0.8" stroke="#e6e6e6" stroke-width="0.8"/>
<line x1="47" y1="471.2" x2="70" y2="471.2" stroke="#e9a12b" stroke-width="1.6" stroke-dasharray="4.5 1.55" stroke-opacity="0.85"/>
<text x="79.6" y="475" font-size="11.2" text-anchor="start" fill="#000">Truth</text>
<defs><linearGradient id="ge" x1="0" y1="1" x2="0" y2="0">
<stop offset="0" stop-color="#440154"/>
<stop offset="0.05" stop-color="#471365"/>
<stop offset="0.1" stop-color="#482475"/>
<stop offset="0.15" stop-color="#463480"/>
<stop offset="0.2" stop-color="#414487"/>
<stop offset="0.25" stop-color="#3b528b"/>
<stop offset="0.3" stop-color="#355f8d"/>
<stop offset="0.35" stop-color="#2f6c8e"/>
<stop offset="0.4" stop-color="#2a788e"/>
<stop offset="0.45" stop-color="#25848e"/>
<stop offset="0.5" stop-color="#21918c"/>
<stop offset="0.55" stop-color="#1e9c89"/>
<stop offset="0.6" stop-color="#22a884"/>
<stop offset="0.65" stop-color="#2fb47c"/>
<stop offset="0.7" stop-color="#44bf70"/>
<stop offset="0.75" stop-color="#5ec962"/>
<stop offset="0.8" stop-color="#7ad151"/>
<stop offset="0.85" stop-color="#9bd93c"/>
<stop offset="0.9" stop-color="#bddf26"/>
<stop offset="0.95" stop-color="#dfe318"/>
<stop offset="1" stop-color="#fde725"/>
</linearGradient></defs>
<rect x="185.6" y="458.2" width="6" height="117" fill="url(#ge)" stroke="#999" stroke-width="0.5" fill-opacity="0.9"/>
<line x1="191.6" y1="551.8" x2="192.8" y2="551.8" stroke="#666" stroke-width="0.6"/>
<text x="193.4" y="555.6" font-size="11" text-anchor="start" fill="#000">200</text>
<line x1="191.6" y1="528.4" x2="192.8" y2="528.4" stroke="#666" stroke-width="0.6"/>
<text x="193.4" y="532.2" font-size="11" text-anchor="start" fill="#000">400</text>
<line x1="191.6" y1="505" x2="192.8" y2="505" stroke="#666" stroke-width="0.6"/>
<text x="193.4" y="508.8" font-size="11" text-anchor="start" fill="#000">600</text>
<line x1="191.6" y1="481.6" x2="192.8" y2="481.6" stroke="#666" stroke-width="0.6"/>
<text x="193.4" y="485.4" font-size="11" text-anchor="start" fill="#000">800</text>
<line x1="191.6" y1="458.2" x2="192.8" y2="458.2" stroke="#666" stroke-width="0.6"/>
<text x="193.4" y="462" font-size="11" text-anchor="start" fill="#000">1000</text>
<text x="222.3" y="516.7" font-size="11.2" text-anchor="middle" fill="#000" transform="rotate(-90 222.3 516.7)">Cycle</text>
<text x="104.4" y="628.8" font-size="22.5" text-anchor="middle" fill="#000">(e)</text>
<defs><clipPath id="cf"><rect x="264.4" y="456.6" width="140.4" height="119"/></clipPath></defs>
<line x1="328.5" y1="456.6" x2="328.5" y2="575.6" stroke="#dcdcdc" stroke-width="0.8"/>
<line x1="398.8" y1="456.6" x2="398.8" y2="575.6" stroke="#dcdcdc" stroke-width="0.8"/>
<line x1="264.4" y1="462.2" x2="404.8" y2="462.2" stroke="#dcdcdc" stroke-width="0.8"/>
<line x1="264.4" y1="512.4" x2="404.8" y2="512.4" stroke="#dcdcdc" stroke-width="0.8"/>
<line x1="264.4" y1="562.6" x2="404.8" y2="562.6" stroke="#dcdcdc" stroke-width="0.8"/>
<g clip-path="url(#cf)">
<polygon points="267.33,566.98 272.93,566.98 270.13,571.88" fill="#d2e21b" fill-opacity="0.85"/>
<polygon points="270.4,563.91 276,563.91 273.2,568.81" fill="#d0e11c" fill-opacity="0.85"/>
<polygon points="278.57,559.82 284.17,559.82 281.37,564.72" fill="#c8e020" fill-opacity="0.85"/>
<polygon points="282.66,556.15 288.26,556.15 285.46,561.05" fill="#c5e021" fill-opacity="0.85"/>
<polygon points="286.75,553.69 292.35,553.69 289.55,558.59" fill="#c0df25" fill-opacity="0.85"/>
<polygon points="292.88,551.24 298.48,551.24 295.68,556.14" fill="#bade28" fill-opacity="0.85"/>
<polygon points="297.58,547.97 303.18,547.97 300.38,552.87" fill="#b5de2b" fill-opacity="0.85"/>
<polygon points="305.14,544.9 310.74,544.9 307.94,549.8" fill="#b0dd2f" fill-opacity="0.85"/>
<polygon points="309.84,541.02 315.44,541.02 312.64,545.92" fill="#addc30" fill-opacity="0.85"/>
<polygon points="318.02,537.34 323.62,537.34 320.82,542.24" fill="#a8db34" fill-opacity="0.85"/>
<polygon points="321.9,533.26 327.5,533.26 324.7,538.16" fill="#a5db36" fill-opacity="0.85"/>
<polygon points="327.21,530.19 332.81,530.19 330.01,535.09" fill="#a0da39" fill-opacity="0.85"/>
<polygon points="329.67,525.49 335.27,525.49 332.47,530.39" fill="#9dd93b" fill-opacity="0.85"/>
<polygon points="335.8,523.45 341.4,523.45 338.6,528.35" fill="#9bd93c" fill-opacity="0.85"/>
<polygon points="339.88,519.36 345.48,519.36 342.68,524.26" fill="#95d840" fill-opacity="0.85"/>
<polygon points="342.54,515.88 348.14,515.88 345.34,520.78" fill="#95d840" fill-opacity="0.85"/>
<polygon points="346.63,513.84 352.23,513.84 349.43,518.74" fill="#90d743" fill-opacity="0.85"/>
<polygon points="348.06,511.8 353.66,511.8 350.86,516.7" fill="#8ed645" fill-opacity="0.85"/>
<polygon points="354.8,507.1 360.4,507.1 357.6,512" fill="#84d44b" fill-opacity="0.85"/>
<polygon points="357.26,502.6 362.86,502.6 360.06,507.5" fill="#81d34d" fill-opacity="0.85"/>
<polygon points="358.28,500.15 363.88,500.15 361.08,505.05" fill="#7fd34e" fill-opacity="0.85"/>
<polygon points="364.41,499.53 370.01,499.53 367.21,504.43" fill="#70cf57" fill-opacity="0.85"/>
<polygon points="365.43,495.45 371.03,495.45 368.23,500.35" fill="#6ece58" fill-opacity="0.85"/>
<polygon points="367.47,490.75 373.07,490.75 370.27,495.65" fill="#69cd5b" fill-opacity="0.85"/>
<polygon points="367.88,487.27 373.48,487.27 370.68,492.17" fill="#69cd5b" fill-opacity="0.85"/>
<polygon points="371.56,486.25 377.16,486.25 374.36,491.15" fill="#54c568" fill-opacity="0.85"/>
<polygon points="372.58,481.75 378.18,481.75 375.38,486.65" fill="#50c46a" fill-opacity="0.85"/>
<polygon points="375.65,483.18 381.25,483.18 378.45,488.08" fill="#40bd72" fill-opacity="0.85"/>
<polygon points="376.32,474.9 381.92,474.9 379.12,479.8" fill="#3dbc74" fill-opacity="0.85"/>
<polygon points="376.91,474.13 382.51,474.13 379.71,479.03" fill="#3aba76" fill-opacity="0.85"/>
<polygon points="377.51,474.05 383.11,474.05 380.31,478.95" fill="#38b977" fill-opacity="0.85"/>
<polygon points="377.69,478.07 383.29,478.07 380.49,482.97" fill="#37b878" fill-opacity="0.85"/>
<polygon points="378.11,472.9 383.71,472.9 380.91,477.8" fill="#35b779" fill-opacity="0.85"/>
<polygon points="378.7,474.81 384.3,474.81 381.5,479.71" fill="#34b679" fill-opacity="0.85"/>
<polygon points="379.3,474.18 384.9,474.18 382.1,479.08" fill="#31b57b" fill-opacity="0.85"/>
<polygon points="379.74,476.18 385.34,476.18 382.54,481.08" fill="#2fb47c" fill-opacity="0.85"/>
<polygon points="379.89,474.1 385.49,474.1 382.69,479" fill="#2eb37c" fill-opacity="0.85"/>
<polygon points="380.49,473.54 386.09,473.54 383.29,478.44" fill="#2ab07f" fill-opacity="0.85"/>
<polygon points="381.09,470.81 386.69,470.81 383.89,475.71" fill="#26ad81" fill-opacity="0.85"/>
<polygon points="381.68,471.29 387.28,471.29 384.48,476.19" fill="#23a983" fill-opacity="0.85"/>
<polygon points="381.78,473.25 387.38,473.25 384.58,478.15" fill="#22a884" fill-opacity="0.85"/>
<polygon points="382.28,472.17 387.88,472.17 385.08,477.07" fill="#21a585" fill-opacity="0.85"/>
<polygon points="382.29,472.78 387.89,472.78 385.09,477.68" fill="#21a585" fill-opacity="0.85"/>
<polygon points="382.8,472.3 388.4,472.3 385.6,477.2" fill="#1fa287" fill-opacity="0.85"/>
<polygon points="382.88,471.64 388.48,471.64 385.68,476.54" fill="#1fa187" fill-opacity="0.85"/>
<polygon points="383.31,471.83 388.91,471.83 386.11,476.73" fill="#1f9f88" fill-opacity="0.85"/>
<polygon points="383.47,468.96 389.07,468.96 386.27,473.86" fill="#1f9e89" fill-opacity="0.85"/>
<polygon points="383.82,471.36 389.42,471.36 386.62,476.26" fill="#1e9c89" fill-opacity="0.85"/>
<polygon points="384.07,471.04 389.67,471.04 386.87,475.94" fill="#1e9b8a" fill-opacity="0.85"/>
<polygon points="384.34,470.62 389.94,470.62 387.14,475.52" fill="#1f998a" fill-opacity="0.85"/>
<polygon points="384.67,469.91 390.27,469.91 387.47,474.81" fill="#1f978b" fill-opacity="0.85"/>
<polygon points="384.85,469.89 390.45,469.89 387.65,474.79" fill="#1f968b" fill-opacity="0.85"/>
<polygon points="385.26,468.32 390.86,468.32 388.06,473.22" fill="#20938c" fill-opacity="0.85"/>
<polygon points="385.36,469.16 390.96,469.16 388.16,474.06" fill="#20928c" fill-opacity="0.85"/>
<polygon points="385.86,467.02 391.46,467.02 388.66,471.92" fill="#21908d" fill-opacity="0.85"/>
<polygon points="385.87,468.43 391.47,468.43 388.67,473.33" fill="#21908d" fill-opacity="0.85"/>
<polygon points="386.38,467.96 391.98,467.96 389.18,472.86" fill="#228d8d" fill-opacity="0.85"/>
<polygon points="386.46,466.5 392.06,466.5 389.26,471.4" fill="#228c8d" fill-opacity="0.85"/>
<polygon points="386.89,467.48 392.49,467.48 389.69,472.38" fill="#23898e" fill-opacity="0.85"/>
<polygon points="387.05,468.05 392.65,468.05 389.85,472.95" fill="#23888e" fill-opacity="0.85"/>
<polygon points="387.4,467.01 393,467.01 390.2,471.91" fill="#24868e" fill-opacity="0.85"/>
<polygon points="387.65,468.43 393.25,468.43 390.45,473.33" fill="#25858e" fill-opacity="0.85"/>
<polygon points="387.91,466.53 393.51,466.53 390.71,471.43" fill="#25838e" fill-opacity="0.85"/>
<polygon points="388.25,467.78 393.85,467.78 391.05,472.68" fill="#26828e" fill-opacity="0.85"/>
<polygon points="388.42,465.96 394.02,465.96 391.22,470.86" fill="#26818e" fill-opacity="0.85"/>
<polygon points="388.84,465.64 394.44,465.64 391.64,470.54" fill="#277e8e" fill-opacity="0.85"/>
<polygon points="388.93,465.38 394.53,465.38 391.73,470.28" fill="#287d8e" fill-opacity="0.85"/>
<polygon points="389.44,465.4 395.04,465.4 392.24,470.3" fill="#297a8e" fill-opacity="0.85"/>
<polygon points="389.44,464.8 395.04,464.8 392.24,469.7" fill="#297a8e" fill-opacity="0.85"/>
<polygon points="389.96,464.23 395.56,464.23 392.76,469.13" fill="#2a768e" fill-opacity="0.85"/>
<polygon points="390.04,463.84 395.64,463.84 392.84,468.74" fill="#2b758e" fill-opacity="0.85"/>
<polygon points="390.47,463.6 396.07,463.6 393.27,468.5" fill="#2c728e" fill-opacity="0.85"/>
<polygon points="390.63,463.77 396.23,463.77 393.43,468.67" fill="#2c718e" fill-opacity="0.85"/>
<polygon points="390.98,462.97 396.58,462.97 393.78,467.87" fill="#2e6f8e" fill-opacity="0.85"/>
<polygon points="391.23,463.03 396.83,463.03 394.03,467.93" fill="#2e6e8e" fill-opacity="0.85"/>
<polygon points="391.49,462.34 397.09,462.34 394.29,467.24" fill="#2f6c8e" fill-opacity="0.85"/>
<polygon points="391.82,464.92 397.42,464.92 394.62,469.82" fill="#30698e" fill-opacity="0.85"/>
<polygon points="392,461.71 397.6,461.71 394.8,466.61" fill="#31688e" fill-opacity="0.85"/>
<polygon points="392.42,464.53 398.02,464.53 395.22,469.43" fill="#32658e" fill-opacity="0.85"/>
<polygon points="392.51,461.24 398.11,461.24 395.31,466.14" fill="#32648e" fill-opacity="0.85"/>
<polygon points="393.02,462.85 398.62,462.85 395.82,467.75" fill="#34618d" fill-opacity="0.85"/>
<polygon points="393.02,460.76 398.62,460.76 395.82,465.66" fill="#34618d" fill-opacity="0.85"/>
<polygon points="393.53,460.29 399.13,460.29 396.33,465.19" fill="#365d8d" fill-opacity="0.85"/>
<polygon points="393.61,461.92 399.21,461.92 396.41,466.82" fill="#365c8d" fill-opacity="0.85"/>
<polygon points="394.04,459.81 399.64,459.81 396.84,464.71" fill="#38588c" fill-opacity="0.85"/>
<polygon points="394.21,462.78 399.81,462.78 397.01,467.68" fill="#3a548c" fill-opacity="0.85"/>
<polygon points="394.45,459.6 400.05,459.6 397.25,464.5" fill="#3c508b" fill-opacity="0.85"/>
<polygon points="394.81,460.02 400.41,460.02 397.61,464.92" fill="#3e4a89" fill-opacity="0.85"/>
<polygon points="394.86,459.38 400.46,459.38 397.66,464.28" fill="#3e4989" fill-opacity="0.85"/>
<polygon points="395.27,459.16 400.87,459.16 398.07,464.06" fill="#424186" fill-opacity="0.85"/>
<polygon points="395.4,462.84 401,462.84 398.2,467.74" fill="#423f85" fill-opacity="0.85"/>
<polygon points="395.68,458.94 401.28,458.94 398.48,463.84" fill="#443a83" fill-opacity="0.85"/>
<polygon points="396,460.67 401.6,460.67 398.8,465.57" fill="#463480" fill-opacity="0.85"/>
<line x1="270.13" y1="553.69" x2="398.48" y2="461.11" stroke="#e9a12b" stroke-width="1.35" stroke-dasharray="4.1 1.8"/>
</g>
<rect x="264.4" y="456.6" width="140.4" height="119" fill="none" stroke="#9a9a9a" stroke-width="1.3"/>
<line x1="262.6" y1="462.2" x2="264.4" y2="462.2" stroke="#888" stroke-width="0.8"/>
<text x="263.5" y="467.6" font-size="16" text-anchor="end" fill="#000">1.0</text>
<line x1="262.6" y1="512.4" x2="264.4" y2="512.4" stroke="#888" stroke-width="0.8"/>
<text x="263.5" y="517.8" font-size="16" text-anchor="end" fill="#000">0.9</text>
<line x1="262.6" y1="562.6" x2="264.4" y2="562.6" stroke="#888" stroke-width="0.8"/>
<text x="263.5" y="568" font-size="16" text-anchor="end" fill="#000">0.8</text>
<line x1="328.5" y1="575.6" x2="328.5" y2="577.4" stroke="#888" stroke-width="0.8"/>
<text x="328.5" y="588.2" font-size="16" text-anchor="middle" fill="#000">0.9</text>
<line x1="398.8" y1="575.6" x2="398.8" y2="577.4" stroke="#888" stroke-width="0.8"/>
<text x="398.8" y="588.2" font-size="16" text-anchor="middle" fill="#000">1.0</text>
<text x="334.6" y="602" font-size="15.7" text-anchor="middle" fill="#000">Ground Truth of SOH</text>
<text x="241" y="516.1" font-size="15.7" text-anchor="middle" fill="#000" transform="rotate(-90 241 516.1)">Prediction of SOH</text>
<rect x="270.2" y="462.6" width="66" height="18.8" rx="2" ry="2" fill="#fff" fill-opacity="0.8" stroke="#e6e6e6" stroke-width="0.8"/>
<line x1="274.8" y1="471" x2="297.8" y2="471" stroke="#e9a12b" stroke-width="1.6" stroke-dasharray="4.5 1.55" stroke-opacity="0.85"/>
<text x="307.4" y="474.8" font-size="11.2" text-anchor="start" fill="#000">Truth</text>
<defs><linearGradient id="gf" x1="0" y1="1" x2="0" y2="0">
<stop offset="0" stop-color="#440154"/>
<stop offset="0.05" stop-color="#471365"/>
<stop offset="0.1" stop-color="#482475"/>
<stop offset="0.15" stop-color="#463480"/>
<stop offset="0.2" stop-color="#414487"/>
<stop offset="0.25" stop-color="#3b528b"/>
<stop offset="0.3" stop-color="#355f8d"/>
<stop offset="0.35" stop-color="#2f6c8e"/>
<stop offset="0.4" stop-color="#2a788e"/>
<stop offset="0.45" stop-color="#25848e"/>
<stop offset="0.5" stop-color="#21918c"/>
<stop offset="0.55" stop-color="#1e9c89"/>
<stop offset="0.6" stop-color="#22a884"/>
<stop offset="0.65" stop-color="#2fb47c"/>
<stop offset="0.7" stop-color="#44bf70"/>
<stop offset="0.75" stop-color="#5ec962"/>
<stop offset="0.8" stop-color="#7ad151"/>
<stop offset="0.85" stop-color="#9bd93c"/>
<stop offset="0.9" stop-color="#bddf26"/>
<stop offset="0.95" stop-color="#dfe318"/>
<stop offset="1" stop-color="#fde725"/>
</linearGradient></defs>
<rect x="413" y="458.2" width="6" height="117.2" fill="url(#gf)" stroke="#999" stroke-width="0.5" fill-opacity="0.9"/>
<line x1="419" y1="551.96" x2="420.2" y2="551.96" stroke="#666" stroke-width="0.6"/>
<text x="420.8" y="555.76" font-size="11" text-anchor="start" fill="#000">200</text>
<line x1="419" y1="528.52" x2="420.2" y2="528.52" stroke="#666" stroke-width="0.6"/>
<text x="420.8" y="532.32" font-size="11" text-anchor="start" fill="#000">400</text>
<line x1="419" y1="505.08" x2="420.2" y2="505.08" stroke="#666" stroke-width="0.6"/>
<text x="420.8" y="508.88" font-size="11" text-anchor="start" fill="#000">600</text>
<line x1="419" y1="481.64" x2="420.2" y2="481.64" stroke="#666" stroke-width="0.6"/>
<text x="420.8" y="485.44" font-size="11" text-anchor="start" fill="#000">800</text>
<line x1="419" y1="458.2" x2="420.2" y2="458.2" stroke="#666" stroke-width="0.6"/>
<text x="420.8" y="462" font-size="11" text-anchor="start" fill="#000">1000</text>
<text x="449.7" y="516.8" font-size="11.2" text-anchor="middle" fill="#000" transform="rotate(-90 449.7 516.8)">Cycle</text>
<text x="333.2" y="628.8" font-size="22.5" text-anchor="middle" fill="#000">(f)</text>
<defs><clipPath id="cg"><rect x="494.4" y="456.6" width="140.2" height="118.6"/></clipPath></defs>
<line x1="558.6" y1="456.6" x2="558.6" y2="575.2" stroke="#dcdcdc" stroke-width="0.8"/>
<line x1="629" y1="456.6" x2="629" y2="575.2" stroke="#dcdcdc" stroke-width="0.8"/>
<line x1="494.4" y1="462.6" x2="634.6" y2="462.6" stroke="#dcdcdc" stroke-width="0.8"/>
<line x1="494.4" y1="521.4" x2="634.6" y2="521.4" stroke="#dcdcdc" stroke-width="0.8"/>
<g clip-path="url(#cg)">
<polygon points="497.33,561.46 502.93,561.46 500.13,566.36" fill="#d2e21b" fill-opacity="0.85"/>
<polygon points="500.4,557.78 506,557.78 503.2,562.68" fill="#d0e11c" fill-opacity="0.85"/>
<polygon points="508.57,554.71 514.17,554.71 511.37,559.61" fill="#c8e020" fill-opacity="0.85"/>
<polygon points="512.66,549.61 518.26,549.61 515.46,554.51" fill="#c5e021" fill-opacity="0.85"/>
<polygon points="516.75,547.56 522.35,547.56 519.55,552.46" fill="#c0df25" fill-opacity="0.85"/>
<polygon points="522.88,543.47 528.48,543.47 525.68,548.37" fill="#bade28" fill-opacity="0.85"/>
<polygon points="527.58,541.43 533.18,541.43 530.38,546.33" fill="#b5de2b" fill-opacity="0.85"/>
<polygon points="535.14,536.93 540.74,536.93 537.94,541.83" fill="#b0dd2f" fill-opacity="0.85"/>
<polygon points="539.84,533.26 545.44,533.26 542.64,538.16" fill="#addc30" fill-opacity="0.85"/>
<polygon points="548.02,529.17 553.62,529.17 550.82,534.07" fill="#a8db34" fill-opacity="0.85"/>
<polygon points="551.9,526.1 557.5,526.1 554.7,531" fill="#a5db36" fill-opacity="0.85"/>
<polygon points="557.21,523.04 562.81,523.04 560.01,527.94" fill="#a0da39" fill-opacity="0.85"/>
<polygon points="559.67,525.49 565.27,525.49 562.47,530.39" fill="#9dd93b" fill-opacity="0.85"/>
<polygon points="565.8,519.36 571.4,519.36 568.6,524.26" fill="#9bd93c" fill-opacity="0.85"/>
<polygon points="569.88,517.31 575.48,517.31 572.68,522.21" fill="#95d840" fill-opacity="0.85"/>
<polygon points="572.54,511.8 578.14,511.8 575.34,516.7" fill="#95d840" fill-opacity="0.85"/>
<polygon points="576.63,508.32 582.23,508.32 579.43,513.22" fill="#90d743" fill-opacity="0.85"/>
<polygon points="578.06,507.1 583.66,507.1 580.86,512" fill="#90d743" fill-opacity="0.85"/>
<polygon points="584.8,502.6 590.4,502.6 587.6,507.5" fill="#84d44b" fill-opacity="0.85"/>
<polygon points="587.26,499.53 592.86,499.53 590.06,504.43" fill="#81d34d" fill-opacity="0.85"/>
<polygon points="588.28,496.47 593.88,496.47 591.08,501.37" fill="#7fd34e" fill-opacity="0.85"/>
<polygon points="594.41,493.4 600.01,493.4 597.21,498.3" fill="#73d056" fill-opacity="0.85"/>
<polygon points="595.43,490.34 601.03,490.34 598.23,495.24" fill="#6ece58" fill-opacity="0.85"/>
<polygon points="597.47,486.66 603.07,486.66 600.27,491.56" fill="#69cd5b" fill-opacity="0.85"/>
<polygon points="601.56,484.21 607.16,484.21 604.36,489.11" fill="#56c667" fill-opacity="0.85"/>
<polygon points="602.58,480.12 608.18,480.12 605.38,485.02" fill="#50c46a" fill-opacity="0.85"/>
<polygon points="605.65,478.07 611.25,478.07 608.45,482.97" fill="#40bd72" fill-opacity="0.85"/>
<polygon points="606.49,476.37 612.09,476.37 609.29,481.27" fill="#3dbc74" fill-opacity="0.85"/>
<polygon points="607.09,477.46 612.69,477.46 609.89,482.36" fill="#3aba76" fill-opacity="0.85"/>
<polygon points="607.68,477.16 613.28,477.16 610.48,482.06" fill="#38b977" fill-opacity="0.85"/>
<polygon points="607.69,475.01 613.29,475.01 610.49,479.91" fill="#38b977" fill-opacity="0.85"/>
<polygon points="608.28,478.3 613.88,478.3 611.08,483.2" fill="#35b779" fill-opacity="0.85"/>
<polygon points="608.88,475.59 614.48,475.59 611.68,480.49" fill="#34b679" fill-opacity="0.85"/>
<polygon points="609.47,474.68 615.07,474.68 612.27,479.58" fill="#31b57b" fill-opacity="0.85"/>
<polygon points="609.74,473.11 615.34,473.11 612.54,478.01" fill="#31b57b" fill-opacity="0.85"/>
<polygon points="610.07,475.2 615.67,475.2 612.87,480.1" fill="#2eb37c" fill-opacity="0.85"/>
<polygon points="610.67,474.54 616.27,474.54 613.47,479.44" fill="#2ab07f" fill-opacity="0.85"/>
<polygon points="611.27,475.63 616.87,475.63 614.07,480.53" fill="#26ad81" fill-opacity="0.85"/>
<polygon points="611.78,471.21 617.38,471.21 614.58,476.11" fill="#23a983" fill-opacity="0.85"/>
<polygon points="611.86,471.28 617.46,471.28 614.66,476.18" fill="#23a983" fill-opacity="0.85"/>
<polygon points="612.29,470.74 617.89,470.74 615.09,475.64" fill="#21a685" fill-opacity="0.85"/>
<polygon points="612.46,472.14 618.06,472.14 615.26,477.04" fill="#21a585" fill-opacity="0.85"/>
<polygon points="612.8,470.26 618.4,470.26 615.6,475.16" fill="#20a386" fill-opacity="0.85"/>
<polygon points="613.06,472.53 618.66,472.53 615.86,477.43" fill="#1fa187" fill-opacity="0.85"/>
<polygon points="613.31,469.79 618.91,469.79 616.11,474.69" fill="#1fa188" fill-opacity="0.85"/>
<polygon points="613.66,470.75 619.26,470.75 616.46,475.65" fill="#1f9e89" fill-opacity="0.85"/>
<polygon points="613.82,469.31 619.42,469.31 616.62,474.21" fill="#1e9d89" fill-opacity="0.85"/>
<polygon points="614.25,470.57 619.85,470.57 617.05,475.47" fill="#1e9b8a" fill-opacity="0.85"/>
<polygon points="614.34,468.68 619.94,468.68 617.14,473.58" fill="#1f9a8a" fill-opacity="0.85"/>
<polygon points="614.85,468.06 620.45,468.06 617.65,472.96" fill="#1f978b" fill-opacity="0.85"/>
<polygon points="614.85,470.37 620.45,470.37 617.65,475.27" fill="#1f978b" fill-opacity="0.85"/>
<polygon points="615.36,467.43 620.96,467.43 618.16,472.33" fill="#20938c" fill-opacity="0.85"/>
<polygon points="615.45,470.24 621.05,470.24 618.25,475.14" fill="#20938c" fill-opacity="0.85"/>
<polygon points="615.87,466.8 621.47,466.8 618.67,471.7" fill="#21918c" fill-opacity="0.85"/>
<polygon points="616.05,469.37 621.65,469.37 618.85,474.27" fill="#21908d" fill-opacity="0.85"/>
<polygon points="616.38,466.32 621.98,466.32 619.18,471.22" fill="#218e8d" fill-opacity="0.85"/>
<polygon points="616.64,468.34 622.24,468.34 619.44,473.24" fill="#228c8d" fill-opacity="0.85"/>
<polygon points="616.89,465.85 622.49,465.85 619.69,470.75" fill="#228b8d" fill-opacity="0.85"/>
<polygon points="617.24,467.33 622.84,467.33 620.04,472.23" fill="#23888e" fill-opacity="0.85"/>
<polygon points="617.4,465.37 623,465.37 620.2,470.27" fill="#24878e" fill-opacity="0.85"/>
<polygon points="617.84,466.77 623.44,466.77 620.64,471.67" fill="#25858e" fill-opacity="0.85"/>
<polygon points="617.91,464.9 623.51,464.9 620.71,469.8" fill="#25848e" fill-opacity="0.85"/>
<polygon points="618.42,464.42 624.02,464.42 621.22,469.32" fill="#26828e" fill-opacity="0.85"/>
<polygon points="618.43,466.84 624.03,466.84 621.23,471.74" fill="#26828e" fill-opacity="0.85"/>
<polygon points="618.93,463.95 624.53,463.95 621.73,468.85" fill="#277e8e" fill-opacity="0.85"/>
<polygon points="619.03,465.65 624.63,465.65 621.83,470.55" fill="#277e8e" fill-opacity="0.85"/>
<polygon points="619.44,463.48 625.04,463.48 622.24,468.38" fill="#297b8e" fill-opacity="0.85"/>
<polygon points="619.63,466.56 625.23,466.56 622.43,471.46" fill="#297a8e" fill-opacity="0.85"/>
<polygon points="619.96,463 625.56,463 622.76,467.9" fill="#2a778e" fill-opacity="0.85"/>
<polygon points="620.23,467.88 625.83,467.88 623.03,472.78" fill="#2b758e" fill-opacity="0.85"/>
<polygon points="620.47,462.53 626.07,462.53 623.27,467.43" fill="#2b748e" fill-opacity="0.85"/>
<polygon points="620.82,467.26 626.42,467.26 623.62,472.16" fill="#2c718e" fill-opacity="0.85"/>
<polygon points="620.98,462.05 626.58,462.05 623.78,466.95" fill="#2d718e" fill-opacity="0.85"/>
<polygon points="621.42,463.63 627.02,463.63 624.22,468.53" fill="#2e6e8e" fill-opacity="0.85"/>
<polygon points="621.49,461.58 627.09,461.58 624.29,466.48" fill="#2e6d8e" fill-opacity="0.85"/>
<polygon points="622,461.1 627.6,461.1 624.8,466" fill="#30698e" fill-opacity="0.85"/>
<polygon points="622.02,466.44 627.62,466.44 624.82,471.34" fill="#30698e" fill-opacity="0.85"/>
<polygon points="622.51,460.73 628.11,460.73 625.31,465.63" fill="#31668e" fill-opacity="0.85"/>
<polygon points="622.62,464.81 628.22,464.81 625.42,469.71" fill="#32658e" fill-opacity="0.85"/>
<polygon points="623.02,460.36 628.62,460.36 625.82,465.26" fill="#33628d" fill-opacity="0.85"/>
<polygon points="623.21,463.21 628.81,463.21 626.01,468.11" fill="#34618d" fill-opacity="0.85"/>
<polygon points="623.53,459.98 629.13,459.98 626.33,464.88" fill="#355e8d" fill-opacity="0.85"/>
<polygon points="623.81,461.46 629.41,461.46 626.61,466.36" fill="#365c8d" fill-opacity="0.85"/>
<polygon points="624.04,459.61 629.64,459.61 626.84,464.51" fill="#375b8d" fill-opacity="0.85"/>
<polygon points="624.41,464.92 630.01,464.92 627.21,469.82" fill="#3a548c" fill-opacity="0.85"/>
<polygon points="624.45,459.44 630.05,459.44 627.25,464.34" fill="#3a538b" fill-opacity="0.85"/>
<polygon points="624.86,459.27 630.46,459.27 627.66,464.17" fill="#3d4d8a" fill-opacity="0.85"/>
<polygon points="625.01,463.17 630.61,463.17 627.81,468.07" fill="#3e4a89" fill-opacity="0.85"/>
<polygon points="625.27,459.11 630.87,459.11 628.07,464.01" fill="#404688" fill-opacity="0.85"/>
<polygon points="625.6,462.22 631.2,462.22 628.4,467.12" fill="#423f85" fill-opacity="0.85"/>
<polygon points="625.68,458.94 631.28,458.94 628.48,463.84" fill="#433e85" fill-opacity="0.85"/>
<polygon points="626.2,461.61 631.8,461.61 629,466.51" fill="#463480" fill-opacity="0.85"/>
<line x1="501.15" y1="568.81" x2="628.48" y2="461.11" stroke="#e9a12b" stroke-width="1.35" stroke-dasharray="4.1 1.8"/>
</g>
<rect x="494.4" y="456.6" width="140.2" height="118.6" fill="none" stroke="#9a9a9a" stroke-width="1.3"/>
<line x1="492.6" y1="462.6" x2="494.4" y2="462.6" stroke="#888" stroke-width="0.8"/>
<text x="493.5" y="468" font-size="16" text-anchor="end" fill="#000">1.0</text>
<line x1="492.6" y1="521.4" x2="494.4" y2="521.4" stroke="#888" stroke-width="0.8"/>
<text x="493.5" y="526.8" font-size="16" text-anchor="end" fill="#000">0.9</text>
<line x1="558.6" y1="575.2" x2="558.6" y2="577" stroke="#888" stroke-width="0.8"/>
<text x="558.6" y="587.8" font-size="16" text-anchor="middle" fill="#000">0.9</text>
<line x1="629" y1="575.2" x2="629" y2="577" stroke="#888" stroke-width="0.8"/>
<text x="629" y="587.8" font-size="16" text-anchor="middle" fill="#000">1.0</text>
<text x="564.5" y="601.6" font-size="15.7" text-anchor="middle" fill="#000">Ground Truth of SOH</text>
<text x="469.6" y="515.9" font-size="15.7" text-anchor="middle" fill="#000" transform="rotate(-90 469.6 515.9)">Prediction of SOH</text>
<rect x="500.2" y="462.6" width="66" height="18.8" rx="2" ry="2" fill="#fff" fill-opacity="0.8" stroke="#e6e6e6" stroke-width="0.8"/>
<line x1="504.8" y1="471" x2="527.8" y2="471" stroke="#e9a12b" stroke-width="1.6" stroke-dasharray="4.5 1.55" stroke-opacity="0.85"/>
<text x="537.4" y="474.8" font-size="11.2" text-anchor="start" fill="#000">Truth</text>
<defs><linearGradient id="gg" x1="0" y1="1" x2="0" y2="0">
<stop offset="0" stop-color="#440154"/>
<stop offset="0.05" stop-color="#471365"/>
<stop offset="0.1" stop-color="#482475"/>
<stop offset="0.15" stop-color="#463480"/>
<stop offset="0.2" stop-color="#414487"/>
<stop offset="0.25" stop-color="#3b528b"/>
<stop offset="0.3" stop-color="#355f8d"/>
<stop offset="0.35" stop-color="#2f6c8e"/>
<stop offset="0.4" stop-color="#2a788e"/>
<stop offset="0.45" stop-color="#25848e"/>
<stop offset="0.5" stop-color="#21918c"/>
<stop offset="0.55" stop-color="#1e9c89"/>
<stop offset="0.6" stop-color="#22a884"/>
<stop offset="0.65" stop-color="#2fb47c"/>
<stop offset="0.7" stop-color="#44bf70"/>
<stop offset="0.75" stop-color="#5ec962"/>
<stop offset="0.8" stop-color="#7ad151"/>
<stop offset="0.85" stop-color="#9bd93c"/>
<stop offset="0.9" stop-color="#bddf26"/>
<stop offset="0.95" stop-color="#dfe318"/>
<stop offset="1" stop-color="#fde725"/>
</linearGradient></defs>
<rect x="644.4" y="458.2" width="6" height="117" fill="url(#gg)" stroke="#999" stroke-width="0.5" fill-opacity="0.9"/>
<line x1="650.4" y1="551.8" x2="651.6" y2="551.8" stroke="#666" stroke-width="0.6"/>
<text x="652.2" y="555.6" font-size="11" text-anchor="start" fill="#000">200</text>
<line x1="650.4" y1="528.4" x2="651.6" y2="528.4" stroke="#666" stroke-width="0.6"/>
<text x="652.2" y="532.2" font-size="11" text-anchor="start" fill="#000">400</text>
<line x1="650.4" y1="505" x2="651.6" y2="505" stroke="#666" stroke-width="0.6"/>
<text x="652.2" y="508.8" font-size="11" text-anchor="start" fill="#000">600</text>
<line x1="650.4" y1="481.6" x2="651.6" y2="481.6" stroke="#666" stroke-width="0.6"/>
<text x="652.2" y="485.4" font-size="11" text-anchor="start" fill="#000">800</text>
<line x1="650.4" y1="458.2" x2="651.6" y2="458.2" stroke="#666" stroke-width="0.6"/>
<text x="652.2" y="462" font-size="11" text-anchor="start" fill="#000">1000</text>
<text x="681.1" y="516.7" font-size="11.2" text-anchor="middle" fill="#000" transform="rotate(-90 681.1 516.7)">Cycle</text>
<text x="564.5" y="628.8" font-size="22.5" text-anchor="middle" fill="#000">(g)</text>
<defs><clipPath id="ch"><rect x="36.6" y="640.8" width="139.7" height="118.6"/></clipPath></defs>
<line x1="100.4" y1="640.8" x2="100.4" y2="759.4" stroke="#dcdcdc" stroke-width="0.8"/>
<line x1="170.5" y1="640.8" x2="170.5" y2="759.4" stroke="#dcdcdc" stroke-width="0.8"/>
<line x1="36.6" y1="646.6" x2="176.3" y2="646.6" stroke="#dcdcdc" stroke-width="0.8"/>
<line x1="36.6" y1="705.4" x2="176.3" y2="705.4" stroke="#dcdcdc" stroke-width="0.8"/>
<g clip-path="url(#ch)">
<polygon points="39.33,734.63 44.93,734.63 42.13,739.53" fill="#d2e21b" fill-opacity="0.85"/>
<polygon points="43.01,731.56 48.61,731.56 45.81,736.46" fill="#d0e11c" fill-opacity="0.85"/>
<polygon points="50.57,728.5 56.17,728.5 53.37,733.4" fill="#c8e020" fill-opacity="0.85"/>
<polygon points="54.66,725.84 60.26,725.84 57.46,730.74" fill="#c5e021" fill-opacity="0.85"/>
<polygon points="58.75,722.37 64.35,722.37 61.55,727.27" fill="#c0df25" fill-opacity="0.85"/>
<polygon points="64.88,717.66 70.48,717.66 67.68,722.56" fill="#bade28" fill-opacity="0.85"/>
<polygon points="69.58,712.76 75.18,712.76 72.38,717.66" fill="#b5de2b" fill-opacity="0.85"/>
<polygon points="77.14,709.49 82.74,709.49 79.94,714.39" fill="#b0dd2f" fill-opacity="0.85"/>
<polygon points="81.84,708.06 87.44,708.06 84.64,712.96" fill="#addc30" fill-opacity="0.85"/>
<polygon points="90.02,704.99 95.62,704.99 92.82,709.89" fill="#a8db34" fill-opacity="0.85"/>
<polygon points="93.9,701.31 99.5,701.31 96.7,706.21" fill="#a5db36" fill-opacity="0.85"/>
<polygon points="99.21,694.37 104.81,694.37 102.01,699.27" fill="#a0da39" fill-opacity="0.85"/>
<polygon points="101.67,692.32 107.27,692.32 104.47,697.22" fill="#9dd93b" fill-opacity="0.85"/>
<polygon points="107.8,690.28 113.4,690.28 110.6,695.18" fill="#9bd93c" fill-opacity="0.85"/>
<polygon points="111.88,687.62 117.48,687.62 114.68,692.52" fill="#95d840" fill-opacity="0.85"/>
<polygon points="114.54,682.92 120.14,682.92 117.34,687.82" fill="#95d840" fill-opacity="0.85"/>
<polygon points="118.63,680.47 124.23,680.47 121.43,685.37" fill="#90d743" fill-opacity="0.85"/>
<polygon points="120.06,676.38 125.66,676.38 122.86,681.28" fill="#8ed645" fill-opacity="0.85"/>
<polygon points="126.8,678.02 132.4,678.02 129.6,682.92" fill="#84d44b" fill-opacity="0.85"/>
<polygon points="129.26,670.25 134.86,670.25 132.06,675.15" fill="#7fd34e" fill-opacity="0.85"/>
<polygon points="135.39,667.18 140.99,667.18 138.19,672.08" fill="#73d056" fill-opacity="0.85"/>
<polygon points="137.43,664.12 143.03,664.12 140.23,669.02" fill="#6ece58" fill-opacity="0.85"/>
<polygon points="139.47,662.07 145.07,662.07 142.27,666.97" fill="#69cd5b" fill-opacity="0.85"/>
<polygon points="143.56,660.03 149.16,660.03 146.36,664.93" fill="#54c568" fill-opacity="0.85"/>
<polygon points="144.58,663.1 150.18,663.1 147.38,668" fill="#4ec36b" fill-opacity="0.85"/>
<polygon points="147.65,657.99 153.25,657.99 150.45,662.89" fill="#3fbc73" fill-opacity="0.85"/>
<polygon points="148.07,656.9 153.67,656.9 150.87,661.8" fill="#3dbc74" fill-opacity="0.85"/>
<polygon points="148.67,659.61 154.27,659.61 151.47,664.51" fill="#3aba76" fill-opacity="0.85"/>
<polygon points="149.26,658.59 154.86,658.59 152.06,663.49" fill="#38b977" fill-opacity="0.85"/>
<polygon points="149.69,655.94 155.29,655.94 152.49,660.84" fill="#37b878" fill-opacity="0.85"/>
<polygon points="149.86,658.93 155.46,658.93 152.66,663.83" fill="#35b779" fill-opacity="0.85"/>
<polygon points="150.45,658.52 156.05,658.52 153.25,663.42" fill="#34b679" fill-opacity="0.85"/>
<polygon points="151.05,655.26 156.65,655.26 153.85,660.16" fill="#31b57b" fill-opacity="0.85"/>
<polygon points="151.64,656.49 157.24,656.49 154.44,661.39" fill="#2eb37c" fill-opacity="0.85"/>
<polygon points="151.74,654.45 157.34,654.45 154.54,659.35" fill="#2eb37c" fill-opacity="0.85"/>
<polygon points="152.24,656.32 157.84,656.32 155.04,661.22" fill="#2ab07f" fill-opacity="0.85"/>
<polygon points="152.83,654.24 158.43,654.24 155.63,659.14" fill="#26ad81" fill-opacity="0.85"/>
<polygon points="153.43,652.76 159.03,652.76 156.23,657.66" fill="#23a983" fill-opacity="0.85"/>
<polygon points="153.78,653.17 159.38,653.17 156.58,658.07" fill="#22a785" fill-opacity="0.85"/>
<polygon points="154.02,653.27 159.62,653.27 156.82,658.17" fill="#21a585" fill-opacity="0.85"/>
<polygon points="154.29,652.69 159.89,652.69 157.09,657.59" fill="#20a386" fill-opacity="0.85"/>
<polygon points="154.61,652.91 160.21,652.91 157.41,657.81" fill="#1fa187" fill-opacity="0.85"/>
<polygon points="154.8,652.22 160.4,652.22 157.6,657.12" fill="#1fa188" fill-opacity="0.85"/>
<polygon points="155.21,654.6 160.81,654.6 158.01,659.5" fill="#1f9e89" fill-opacity="0.85"/>
<polygon points="155.31,651.74 160.91,651.74 158.11,656.64" fill="#1f9e89" fill-opacity="0.85"/>
<polygon points="155.8,651.6 161.4,651.6 158.6,656.5" fill="#1e9b8a" fill-opacity="0.85"/>
<polygon points="155.82,651.27 161.42,651.27 158.62,656.17" fill="#1f9a8a" fill-opacity="0.85"/>
<polygon points="156.34,650.79 161.94,650.79 159.14,655.69" fill="#1f978b" fill-opacity="0.85"/>
<polygon points="156.4,651.65 162,651.65 159.2,656.55" fill="#1f978b" fill-opacity="0.85"/>
<polygon points="156.85,650.32 162.45,650.32 159.65,655.22" fill="#1f948c" fill-opacity="0.85"/>
<polygon points="156.99,653.58 162.59,653.58 159.79,658.48" fill="#20938c" fill-opacity="0.85"/>
<polygon points="157.36,649.84 162.96,649.84 160.16,654.74" fill="#20928c" fill-opacity="0.85"/>
<polygon points="157.59,652.68 163.19,652.68 160.39,657.58" fill="#21908d" fill-opacity="0.85"/>
<polygon points="157.87,649.37 163.47,649.37 160.67,654.27" fill="#218e8d" fill-opacity="0.85"/>
<polygon points="158.18,650.6 163.78,650.6 160.98,655.5" fill="#228c8d" fill-opacity="0.85"/>
<polygon points="158.38,649.05 163.98,649.05 161.18,653.95" fill="#228b8d" fill-opacity="0.85"/>
<polygon points="158.78,652.16 164.38,652.16 161.58,657.06" fill="#23888e" fill-opacity="0.85"/>
<polygon points="158.89,648.73 164.49,648.73 161.69,653.63" fill="#23888e" fill-opacity="0.85"/>
<polygon points="159.37,651.62 164.97,651.62 162.17,656.52" fill="#25858e" fill-opacity="0.85"/>
<polygon points="159.4,648.4 165,648.4 162.2,653.3" fill="#25848e" fill-opacity="0.85"/>
<polygon points="159.91,648.08 165.51,648.08 162.71,652.98" fill="#26828e" fill-opacity="0.85"/>
<polygon points="159.97,651.11 165.57,651.11 162.77,656.01" fill="#26828e" fill-opacity="0.85"/>
<polygon points="160.42,647.71 166.02,647.71 163.22,652.61" fill="#277f8e" fill-opacity="0.85"/>
<polygon points="160.56,648.63 166.16,648.63 163.36,653.53" fill="#277e8e" fill-opacity="0.85"/>
<polygon points="160.93,647.34 166.53,647.34 163.73,652.24" fill="#297b8e" fill-opacity="0.85"/>
<polygon points="161.16,649.91 166.76,649.91 163.96,654.81" fill="#297a8e" fill-opacity="0.85"/>
<polygon points="161.44,646.96 167.04,646.96 164.24,651.86" fill="#2a788e" fill-opacity="0.85"/>
<polygon points="161.75,648.68 167.35,648.68 164.55,653.58" fill="#2b758e" fill-opacity="0.85"/>
<polygon points="161.96,646.59 167.56,646.59 164.76,651.49" fill="#2b748e" fill-opacity="0.85"/>
<polygon points="162.35,647.26 167.95,647.26 165.15,652.16" fill="#2c718e" fill-opacity="0.85"/>
<polygon points="162.47,646.22 168.07,646.22 165.27,651.12" fill="#2d718e" fill-opacity="0.85"/>
<polygon points="162.94,645.98 168.54,645.98 165.74,650.88" fill="#2e6e8e" fill-opacity="0.85"/>
<polygon points="162.98,645.85 168.58,645.85 165.78,650.75" fill="#2e6d8e" fill-opacity="0.85"/>
<polygon points="163.49,645.47 169.09,645.47 166.29,650.37" fill="#306a8e" fill-opacity="0.85"/>
<polygon points="163.54,645.61 169.14,645.61 166.34,650.51" fill="#30698e" fill-opacity="0.85"/>
<polygon points="164,645.1 169.6,645.1 166.8,650" fill="#31668e" fill-opacity="0.85"/>
<polygon points="164.13,645.52 169.73,645.52 166.93,650.42" fill="#32658e" fill-opacity="0.85"/>
<polygon points="164.51,644.78 170.11,644.78 167.31,649.68" fill="#33628d" fill-opacity="0.85"/>
<polygon points="164.73,645.29 170.33,645.29 167.53,650.19" fill="#34618d" fill-opacity="0.85"/>
<polygon points="165.02,644.46 170.62,644.46 167.82,649.36" fill="#355e8d" fill-opacity="0.85"/>
<polygon points="165.32,647.89 170.92,647.89 168.12,652.79" fill="#365c8d" fill-opacity="0.85"/>
<polygon points="165.53,644.14 171.13,644.14 168.33,649.04" fill="#375b8d" fill-opacity="0.85"/>
<polygon points="165.92,645.13 171.52,645.13 168.72,650.03" fill="#3a548c" fill-opacity="0.85"/>
<polygon points="166.04,643.81 171.64,643.81 168.84,648.71" fill="#3b528b" fill-opacity="0.85"/>
<polygon points="166.45,643.6 172.05,643.6 169.25,648.5" fill="#3e4c8a" fill-opacity="0.85"/>
<polygon points="166.51,643.3 172.11,643.3 169.31,648.2" fill="#3e4a89" fill-opacity="0.85"/>
<polygon points="166.86,643.38 172.46,643.38 169.66,648.28" fill="#414487" fill-opacity="0.85"/>
<polygon points="167.11,643.09 172.71,643.09 169.91,647.99" fill="#423f85" fill-opacity="0.85"/>
<polygon points="167.27,643.16 172.87,643.16 170.07,648.06" fill="#433d84" fill-opacity="0.85"/>
<polygon points="167.68,642.94 173.28,642.94 170.48,647.84" fill="#463480" fill-opacity="0.85"/>
<polygon points="167.7,644.24 173.3,644.24 170.5,649.14" fill="#463480" fill-opacity="0.85"/>
<line x1="43.15" y1="752.81" x2="170.48" y2="645.72" stroke="#e9a12b" stroke-width="1.35" stroke-dasharray="4.1 1.8"/>
</g>
<rect x="36.6" y="640.8" width="139.7" height="118.6" fill="none" stroke="#9a9a9a" stroke-width="1.3"/>
<line x1="34.8" y1="646.6" x2="36.6" y2="646.6" stroke="#888" stroke-width="0.8"/>
<text x="35.7" y="652" font-size="16" text-anchor="end" fill="#000">1.0</text>
<line x1="34.8" y1="705.4" x2="36.6" y2="705.4" stroke="#888" stroke-width="0.8"/>
<text x="35.7" y="710.8" font-size="16" text-anchor="end" fill="#000">0.9</text>
<line x1="100.4" y1="759.4" x2="100.4" y2="761.2" stroke="#888" stroke-width="0.8"/>
<text x="100.4" y="772" font-size="16" text-anchor="middle" fill="#000">0.9</text>
<line x1="170.5" y1="759.4" x2="170.5" y2="761.2" stroke="#888" stroke-width="0.8"/>
<text x="170.5" y="772" font-size="16" text-anchor="middle" fill="#000">1.0</text>
<text x="106.45" y="785.8" font-size="15.7" text-anchor="middle" fill="#000">Ground Truth of SOH</text>
<text x="13.8" y="700.1" font-size="15.7" text-anchor="middle" fill="#000" transform="rotate(-90 13.8 700.1)">Prediction of SOH</text>
<rect x="42.4" y="646.8" width="66" height="18.8" rx="2" ry="2" fill="#fff" fill-opacity="0.8" stroke="#e6e6e6" stroke-width="0.8"/>
<line x1="47" y1="655.2" x2="70" y2="655.2" stroke="#e9a12b" stroke-width="1.6" stroke-dasharray="4.5 1.55" stroke-opacity="0.85"/>
<text x="79.6" y="659" font-size="11.2" text-anchor="start" fill="#000">Truth</text>
<defs><linearGradient id="gh" x1="0" y1="1" x2="0" y2="0">
<stop offset="0" stop-color="#440154"/>
<stop offset="0.05" stop-color="#471365"/>
<stop offset="0.1" stop-color="#482475"/>
<stop offset="0.15" stop-color="#463480"/>
<stop offset="0.2" stop-color="#414487"/>
<stop offset="0.25" stop-color="#3b528b"/>
<stop offset="0.3" stop-color="#355f8d"/>
<stop offset="0.35" stop-color="#2f6c8e"/>
<stop offset="0.4" stop-color="#2a788e"/>
<stop offset="0.45" stop-color="#25848e"/>
<stop offset="0.5" stop-color="#21918c"/>
<stop offset="0.55" stop-color="#1e9c89"/>
<stop offset="0.6" stop-color="#22a884"/>
<stop offset="0.65" stop-color="#2fb47c"/>
<stop offset="0.7" stop-color="#44bf70"/>
<stop offset="0.75" stop-color="#5ec962"/>
<stop offset="0.8" stop-color="#7ad151"/>
<stop offset="0.85" stop-color="#9bd93c"/>
<stop offset="0.9" stop-color="#bddf26"/>
<stop offset="0.95" stop-color="#dfe318"/>
<stop offset="1" stop-color="#fde725"/>
</linearGradient></defs>
<rect x="185.7" y="641.6" width="6.1" height="117" fill="url(#gh)" stroke="#999" stroke-width="0.5" fill-opacity="0.9"/>
<line x1="191.8" y1="735.2" x2="193" y2="735.2" stroke="#666" stroke-width="0.6"/>
<text x="193.6" y="739" font-size="11" text-anchor="start" fill="#000">200</text>
<line x1="191.8" y1="711.8" x2="193" y2="711.8" stroke="#666" stroke-width="0.6"/>
<text x="193.6" y="715.6" font-size="11" text-anchor="start" fill="#000">400</text>
<line x1="191.8" y1="688.4" x2="193" y2="688.4" stroke="#666" stroke-width="0.6"/>
<text x="193.6" y="692.2" font-size="11" text-anchor="start" fill="#000">600</text>
<line x1="191.8" y1="665" x2="193" y2="665" stroke="#666" stroke-width="0.6"/>
<text x="193.6" y="668.8" font-size="11" text-anchor="start" fill="#000">800</text>
<line x1="191.8" y1="641.6" x2="193" y2="641.6" stroke="#666" stroke-width="0.6"/>
<text x="193.6" y="645.4" font-size="11" text-anchor="start" fill="#000">1000</text>
<text x="222.5" y="700.1" font-size="11.2" text-anchor="middle" fill="#000" transform="rotate(-90 222.5 700.1)">Cycle</text>
<text x="104.9" y="811.8" font-size="22.5" text-anchor="middle" fill="#000">(h)</text>
<defs><clipPath id="ci"><rect x="264.6" y="640.4" width="139" height="118.8"/></clipPath></defs>
<line x1="327.8" y1="640.4" x2="327.8" y2="759.2" stroke="#dcdcdc" stroke-width="0.8"/>
<line x1="397.6" y1="640.4" x2="397.6" y2="759.2" stroke="#dcdcdc" stroke-width="0.8"/>
<line x1="264.6" y1="646.6" x2="403.6" y2="646.6" stroke="#dcdcdc" stroke-width="0.8"/>
<line x1="264.6" y1="705.4" x2="403.6" y2="705.4" stroke="#dcdcdc" stroke-width="0.8"/>
<g clip-path="url(#ci)">
<polygon points="267.33,743.82 272.93,743.82 270.13,748.72" fill="#d2e21b" fill-opacity="0.85"/>
<polygon points="271.01,740.76 276.61,740.76 273.81,745.66" fill="#d0e11c" fill-opacity="0.85"/>
<polygon points="278.57,736.67 284.17,736.67 281.37,741.57" fill="#c8e020" fill-opacity="0.85"/>
<polygon points="282.66,731.56 288.26,731.56 285.46,736.46" fill="#c5e021" fill-opacity="0.85"/>
<polygon points="286.75,727.47 292.35,727.47 289.55,732.37" fill="#c0df25" fill-opacity="0.85"/>
<polygon points="292.88,721.75 298.48,721.75 295.68,726.65" fill="#bade28" fill-opacity="0.85"/>
<polygon points="297.58,716.85 303.18,716.85 300.38,721.75" fill="#b5de2b" fill-opacity="0.85"/>
<polygon points="305.14,711.53 310.74,711.53 307.94,716.43" fill="#b0dd2f" fill-opacity="0.85"/>
<polygon points="309.84,707.04 315.44,707.04 312.64,711.94" fill="#addc30" fill-opacity="0.85"/>
<polygon points="318.02,702.54 323.62,702.54 320.82,707.44" fill="#a8db34" fill-opacity="0.85"/>
<polygon points="321.9,697.84 327.5,697.84 324.7,702.74" fill="#a5db36" fill-opacity="0.85"/>
<polygon points="327.21,696.82 332.81,696.82 330.01,701.72" fill="#a0da39" fill-opacity="0.85"/>
<polygon points="329.67,691.71 335.27,691.71 332.47,696.61" fill="#9dd93b" fill-opacity="0.85"/>
<polygon points="335.8,690.28 341.4,690.28 338.6,695.18" fill="#98d83e" fill-opacity="0.85"/>
<polygon points="339.88,684.56 345.48,684.56 342.68,689.46" fill="#95d840" fill-opacity="0.85"/>
<polygon points="342.54,683.53 348.14,683.53 345.34,688.43" fill="#93d741" fill-opacity="0.85"/>
<polygon points="346.63,679.45 352.23,679.45 349.43,684.35" fill="#90d743" fill-opacity="0.85"/>
<polygon points="348.06,676.79 353.66,676.79 350.86,681.69" fill="#8ed645" fill-opacity="0.85"/>
<polygon points="354.8,676.38 360.4,676.38 357.6,681.28" fill="#84d44b" fill-opacity="0.85"/>
<polygon points="357.26,671.27 362.86,671.27 360.06,676.17" fill="#7fd34e" fill-opacity="0.85"/>
<polygon points="363.39,668.21 368.99,668.21 366.19,673.11" fill="#70cf57" fill-opacity="0.85"/>
<polygon points="365.43,665.14 371.03,665.14 368.23,670.04" fill="#6ccd5a" fill-opacity="0.85"/>
<polygon points="367.47,662.48 373.07,662.48 370.27,667.38" fill="#65cb5e" fill-opacity="0.85"/>
<polygon points="371.56,659.01 377.16,659.01 374.36,663.91" fill="#4ec36b" fill-opacity="0.85"/>
<polygon points="375.26,658.57 380.86,658.57 378.06,663.47" fill="#3dbc74" fill-opacity="0.85"/>
<polygon points="375.65,657.58 381.25,657.58 378.45,662.48" fill="#3bbb75" fill-opacity="0.85"/>
<polygon points="375.85,659.79 381.45,659.79 378.65,664.69" fill="#3aba76" fill-opacity="0.85"/>
<polygon points="376.44,657.68 382.04,657.68 379.24,662.58" fill="#38b977" fill-opacity="0.85"/>
<polygon points="377.03,661.09 382.63,661.09 379.83,665.99" fill="#35b779" fill-opacity="0.85"/>
<polygon points="377.62,658.37 383.22,658.37 380.42,663.27" fill="#34b679" fill-opacity="0.85"/>
<polygon points="377.69,655.53 383.29,655.53 380.49,660.43" fill="#34b679" fill-opacity="0.85"/>
<polygon points="378.22,655 383.82,655 381.02,659.9" fill="#31b57b" fill-opacity="0.85"/>
<polygon points="378.81,656.97 384.41,656.97 381.61,661.87" fill="#2eb37c" fill-opacity="0.85"/>
<polygon points="379.4,655.43 385,655.43 382.2,660.33" fill="#2ab07f" fill-opacity="0.85"/>
<polygon points="379.74,653.64 385.34,653.64 382.54,658.54" fill="#27ad81" fill-opacity="0.85"/>
<polygon points="379.99,656.87 385.59,656.87 382.79,661.77" fill="#26ad81" fill-opacity="0.85"/>
<polygon points="380.59,653.38 386.19,653.38 383.39,658.28" fill="#23a983" fill-opacity="0.85"/>
<polygon points="381.18,653.52 386.78,653.52 383.98,658.42" fill="#21a585" fill-opacity="0.85"/>
<polygon points="381.77,652.67 387.37,652.67 384.57,657.57" fill="#1fa187" fill-opacity="0.85"/>
<polygon points="381.78,651.74 387.38,651.74 384.58,656.64" fill="#1fa187" fill-opacity="0.85"/>
<polygon points="382.29,651.36 387.89,651.36 385.09,656.26" fill="#1f9f88" fill-opacity="0.85"/>
<polygon points="382.36,654.18 387.96,654.18 385.16,659.08" fill="#1f9e89" fill-opacity="0.85"/>
<polygon points="382.8,650.99 388.4,650.99 385.6,655.89" fill="#1e9c89" fill-opacity="0.85"/>
<polygon points="382.96,652.6 388.56,652.6 385.76,657.5" fill="#1e9b8a" fill-opacity="0.85"/>
<polygon points="383.31,650.62 388.91,650.62 386.11,655.52" fill="#1f988b" fill-opacity="0.85"/>
<polygon points="383.55,653.91 389.15,653.91 386.35,658.81" fill="#1f978b" fill-opacity="0.85"/>
<polygon points="383.82,650.25 389.42,650.25 386.62,655.15" fill="#1f958b" fill-opacity="0.85"/>
<polygon points="384.14,651.73 389.74,651.73 386.94,656.63" fill="#20938c" fill-opacity="0.85"/>
<polygon points="384.34,649.87 389.94,649.87 387.14,654.77" fill="#20928c" fill-opacity="0.85"/>
<polygon points="384.73,654.38 390.33,654.38 387.53,659.28" fill="#21908d" fill-opacity="0.85"/>
<polygon points="384.85,649.5 390.45,649.5 387.65,654.4" fill="#218f8d" fill-opacity="0.85"/>
<polygon points="385.32,650.66 390.92,650.66 388.12,655.56" fill="#228c8d" fill-opacity="0.85"/>
<polygon points="385.36,649.13 390.96,649.13 388.16,654.03" fill="#228c8d" fill-opacity="0.85"/>
<polygon points="385.87,648.76 391.47,648.76 388.67,653.66" fill="#23898e" fill-opacity="0.85"/>
<polygon points="385.92,650.03 391.52,650.03 388.72,654.93" fill="#23888e" fill-opacity="0.85"/>
<polygon points="386.38,648.43 391.98,648.43 389.18,653.33" fill="#25858e" fill-opacity="0.85"/>
<polygon points="386.51,650.81 392.11,650.81 389.31,655.71" fill="#25858e" fill-opacity="0.85"/>
<polygon points="386.89,648.11 392.49,648.11 389.69,653.01" fill="#26828e" fill-opacity="0.85"/>
<polygon points="387.1,648.11 392.7,648.11 389.9,653.01" fill="#26828e" fill-opacity="0.85"/>
<polygon points="387.4,647.79 393,647.79 390.2,652.69" fill="#27808e" fill-opacity="0.85"/>
<polygon points="387.69,649.55 393.29,649.55 390.49,654.45" fill="#277e8e" fill-opacity="0.85"/>
<polygon points="387.91,647.47 393.51,647.47 390.71,652.37" fill="#287c8e" fill-opacity="0.85"/>
<polygon points="388.29,646.63 393.89,646.63 391.09,651.53" fill="#297a8e" fill-opacity="0.85"/>
<polygon points="388.42,647.15 394.02,647.15 391.22,652.05" fill="#29798e" fill-opacity="0.85"/>
<polygon points="388.88,649.05 394.48,649.05 391.68,653.95" fill="#2b758e" fill-opacity="0.85"/>
<polygon points="388.93,646.83 394.53,646.83 391.73,651.73" fill="#2b758e" fill-opacity="0.85"/>
<polygon points="389.44,646.5 395.04,646.5 392.24,651.4" fill="#2c718e" fill-opacity="0.85"/>
<polygon points="389.47,648.95 395.07,648.95 392.27,653.85" fill="#2c718e" fill-opacity="0.85"/>
<polygon points="389.96,646.18 395.56,646.18 392.76,651.08" fill="#2e6e8e" fill-opacity="0.85"/>
<polygon points="390.06,647.66 395.66,647.66 392.86,652.56" fill="#2e6e8e" fill-opacity="0.85"/>
<polygon points="390.47,645.81 396.07,645.81 393.27,650.71" fill="#2f6b8e" fill-opacity="0.85"/>
<polygon points="390.65,642.63 396.25,642.63 393.45,647.53" fill="#30698e" fill-opacity="0.85"/>
<polygon points="390.98,645.44 396.58,645.44 393.78,650.34" fill="#31678e" fill-opacity="0.85"/>
<polygon points="391.25,648.63 396.85,648.63 394.05,653.53" fill="#32658e" fill-opacity="0.85"/>
<polygon points="391.49,645.06 397.09,645.06 394.29,649.96" fill="#33638d" fill-opacity="0.85"/>
<polygon points="391.84,646.52 397.44,646.52 394.64,651.42" fill="#34618d" fill-opacity="0.85"/>
<polygon points="392,644.69 397.6,644.69 394.8,649.59" fill="#355f8d" fill-opacity="0.85"/>
<polygon points="392.43,646.04 398.03,646.04 395.23,650.94" fill="#365c8d" fill-opacity="0.85"/>
<polygon points="392.51,644.47 398.11,644.47 395.31,649.37" fill="#365c8d" fill-opacity="0.85"/>
<polygon points="393.02,644.25 398.62,644.25 395.82,649.15" fill="#3a548c" fill-opacity="0.85"/>
<polygon points="393.02,644.13 398.62,644.13 395.82,649.03" fill="#3a548c" fill-opacity="0.85"/>
<polygon points="393.53,644.03 399.13,644.03 396.33,648.93" fill="#3e4c8a" fill-opacity="0.85"/>
<polygon points="393.62,646.61 399.22,646.61 396.42,651.51" fill="#3e4a89" fill-opacity="0.85"/>
<polygon points="394.04,643.81 399.64,643.81 396.84,648.71" fill="#414287" fill-opacity="0.85"/>
<polygon points="394.21,641.58 399.81,641.58 397.01,646.48" fill="#423f85" fill-opacity="0.85"/>
<polygon points="394.45,643.6 400.05,643.6 397.25,648.5" fill="#443a83" fill-opacity="0.85"/>
<polygon points="394.8,646.11 400.4,646.11 397.6,651.01" fill="#463480" fill-opacity="0.85"/>
<polygon points="394.86,643.38 400.46,643.38 397.66,648.28" fill="#463480" fill-opacity="0.85"/>
<polygon points="395.27,643.16 400.87,643.16 398.07,648.06" fill="#46337f" fill-opacity="0.85"/>
<polygon points="395.68,642.94 401.28,642.94 398.48,647.84" fill="#46327e" fill-opacity="0.85"/>
<line x1="271.15" y1="752.81" x2="398.48" y2="645.11" stroke="#e9a12b" stroke-width="1.35" stroke-dasharray="4.1 1.8"/>
</g>
<rect x="264.6" y="640.4" width="139" height="118.8" fill="none" stroke="#9a9a9a" stroke-width="1.3"/>
<line x1="262.8" y1="646.6" x2="264.6" y2="646.6" stroke="#888" stroke-width="0.8"/>
<text x="263.7" y="652" font-size="16" text-anchor="end" fill="#000">1.0</text>
<line x1="262.8" y1="705.4" x2="264.6" y2="705.4" stroke="#888" stroke-width="0.8"/>
<text x="263.7" y="710.8" font-size="16" text-anchor="end" fill="#000">0.9</text>
<line x1="327.8" y1="759.2" x2="327.8" y2="761" stroke="#888" stroke-width="0.8"/>
<text x="327.8" y="771.8" font-size="16" text-anchor="middle" fill="#000">0.9</text>
<line x1="397.6" y1="759.2" x2="397.6" y2="761" stroke="#888" stroke-width="0.8"/>
<text x="397.6" y="771.8" font-size="16" text-anchor="middle" fill="#000">1.0</text>
<text x="334.1" y="785.6" font-size="15.7" text-anchor="middle" fill="#000">Ground Truth of SOH</text>
<text x="241" y="699.8" font-size="15.7" text-anchor="middle" fill="#000" transform="rotate(-90 241 699.8)">Prediction of SOH</text>
<rect x="270.4" y="646.4" width="66" height="18.8" rx="2" ry="2" fill="#fff" fill-opacity="0.8" stroke="#e6e6e6" stroke-width="0.8"/>
<line x1="275" y1="654.8" x2="298" y2="654.8" stroke="#e9a12b" stroke-width="1.6" stroke-dasharray="4.5 1.55" stroke-opacity="0.85"/>
<text x="307.6" y="658.6" font-size="11.2" text-anchor="start" fill="#000">Truth</text>
<defs><linearGradient id="gi" x1="0" y1="1" x2="0" y2="0">
<stop offset="0" stop-color="#440154"/>
<stop offset="0.05" stop-color="#471365"/>
<stop offset="0.1" stop-color="#482475"/>
<stop offset="0.15" stop-color="#463480"/>
<stop offset="0.2" stop-color="#414487"/>
<stop offset="0.25" stop-color="#3b528b"/>
<stop offset="0.3" stop-color="#355f8d"/>
<stop offset="0.35" stop-color="#2f6c8e"/>
<stop offset="0.4" stop-color="#2a788e"/>
<stop offset="0.45" stop-color="#25848e"/>
<stop offset="0.5" stop-color="#21918c"/>
<stop offset="0.55" stop-color="#1e9c89"/>
<stop offset="0.6" stop-color="#22a884"/>
<stop offset="0.65" stop-color="#2fb47c"/>
<stop offset="0.7" stop-color="#44bf70"/>
<stop offset="0.75" stop-color="#5ec962"/>
<stop offset="0.8" stop-color="#7ad151"/>
<stop offset="0.85" stop-color="#9bd93c"/>
<stop offset="0.9" stop-color="#bddf26"/>
<stop offset="0.95" stop-color="#dfe318"/>
<stop offset="1" stop-color="#fde725"/>
</linearGradient></defs>
<rect x="413" y="641.6" width="6" height="116.8" fill="url(#gi)" stroke="#999" stroke-width="0.5" fill-opacity="0.9"/>
<line x1="419" y1="735.04" x2="420.2" y2="735.04" stroke="#666" stroke-width="0.6"/>
<text x="420.8" y="738.84" font-size="11" text-anchor="start" fill="#000">200</text>
<line x1="419" y1="711.68" x2="420.2" y2="711.68" stroke="#666" stroke-width="0.6"/>
<text x="420.8" y="715.48" font-size="11" text-anchor="start" fill="#000">400</text>
<line x1="419" y1="688.32" x2="420.2" y2="688.32" stroke="#666" stroke-width="0.6"/>
<text x="420.8" y="692.12" font-size="11" text-anchor="start" fill="#000">600</text>
<line x1="419" y1="664.96" x2="420.2" y2="664.96" stroke="#666" stroke-width="0.6"/>
<text x="420.8" y="668.76" font-size="11" text-anchor="start" fill="#000">800</text>
<line x1="419" y1="641.6" x2="420.2" y2="641.6" stroke="#666" stroke-width="0.6"/>
<text x="420.8" y="645.4" font-size="11" text-anchor="start" fill="#000">1000</text>
<text x="449.7" y="700" font-size="11.2" text-anchor="middle" fill="#000" transform="rotate(-90 449.7 700)">Cycle</text>
<text x="333.2" y="811.8" font-size="22.5" text-anchor="middle" fill="#000">(i)</text>
<defs><clipPath id="cj"><rect x="496" y="640.4" width="139" height="118.2"/></clipPath></defs>
<line x1="559.6" y1="640.4" x2="559.6" y2="758.6" stroke="#dcdcdc" stroke-width="0.8"/>
<line x1="629.2" y1="640.4" x2="629.2" y2="758.6" stroke="#dcdcdc" stroke-width="0.8"/>
<line x1="496" y1="646.2" x2="635" y2="646.2" stroke="#dcdcdc" stroke-width="0.8"/>
<line x1="496" y1="703.2" x2="635" y2="703.2" stroke="#dcdcdc" stroke-width="0.8"/>
<g clip-path="url(#cj)">
<polygon points="499.35,749.96 504.95,749.96 502.15,754.86" fill="#d2e21b" fill-opacity="0.85"/>
<polygon points="502.01,744.85 507.61,744.85 504.81,749.75" fill="#d0e11c" fill-opacity="0.85"/>
<polygon points="509.57,740.76 515.17,740.76 512.37,745.66" fill="#c8e020" fill-opacity="0.85"/>
<polygon points="513.66,736.67 519.26,736.67 516.46,741.57" fill="#c5e021" fill-opacity="0.85"/>
<polygon points="517.75,732.58 523.35,732.58 520.55,737.48" fill="#c0df25" fill-opacity="0.85"/>
<polygon points="523.88,728.5 529.48,728.5 526.68,733.4" fill="#bade28" fill-opacity="0.85"/>
<polygon points="528.58,724.41 534.18,724.41 531.38,729.31" fill="#b5de2b" fill-opacity="0.85"/>
<polygon points="536.14,720.32 541.74,720.32 538.94,725.22" fill="#b0dd2f" fill-opacity="0.85"/>
<polygon points="540.84,714.8 546.44,714.8 543.64,719.7" fill="#addc30" fill-opacity="0.85"/>
<polygon points="549.02,709.49 554.62,709.49 551.82,714.39" fill="#a8db34" fill-opacity="0.85"/>
<polygon points="552.9,703.97 558.5,703.97 555.7,708.87" fill="#a5db36" fill-opacity="0.85"/>
<polygon points="558.21,699.88 563.81,699.88 561.01,704.78" fill="#a0da39" fill-opacity="0.85"/>
<polygon points="560.67,695.8 566.27,695.8 563.47,700.7" fill="#9dd93b" fill-opacity="0.85"/>
<polygon points="566.8,694.37 572.4,694.37 569.6,699.27" fill="#9bd93c" fill-opacity="0.85"/>
<polygon points="570.88,689.05 576.48,689.05 573.68,693.95" fill="#95d840" fill-opacity="0.85"/>
<polygon points="573.54,687.62 579.14,687.62 576.34,692.52" fill="#95d840" fill-opacity="0.85"/>
<polygon points="577.63,682.92 583.23,682.92 580.43,687.82" fill="#90d743" fill-opacity="0.85"/>
<polygon points="579.06,681.49 584.66,681.49 581.86,686.39" fill="#8ed645" fill-opacity="0.85"/>
<polygon points="585.8,678.42 591.4,678.42 588.6,683.32" fill="#84d44b" fill-opacity="0.85"/>
<polygon points="588.26,674.34 593.86,674.34 591.06,679.24" fill="#7fd34e" fill-opacity="0.85"/>
<polygon points="595.41,672.7 601.01,672.7 598.21,677.6" fill="#70cf57" fill-opacity="0.85"/>
<polygon points="596.43,666.16 602.03,666.16 599.23,671.06" fill="#6ece58" fill-opacity="0.85"/>
<polygon points="598.47,664.53 604.07,664.53 601.27,669.43" fill="#69cd5b" fill-opacity="0.85"/>
<polygon points="602.56,659.62 608.16,659.62 605.36,664.52" fill="#52c569" fill-opacity="0.85"/>
<polygon points="606.65,658.4 612.25,658.4 609.45,663.3" fill="#3fbc73" fill-opacity="0.85"/>
<polygon points="606.91,660.37 612.51,660.37 609.71,665.27" fill="#3dbc74" fill-opacity="0.85"/>
<polygon points="607.5,661.84 613.1,661.84 610.3,666.74" fill="#3aba76" fill-opacity="0.85"/>
<polygon points="608.09,655.77 613.69,655.77 610.89,660.67" fill="#38b977" fill-opacity="0.85"/>
<polygon points="608.68,657.94 614.28,657.94 611.48,662.84" fill="#35b779" fill-opacity="0.85"/>
<polygon points="608.69,656.35 614.29,656.35 611.49,661.25" fill="#35b779" fill-opacity="0.85"/>
<polygon points="609.27,657.59 614.87,657.59 612.07,662.49" fill="#34b679" fill-opacity="0.85"/>
<polygon points="609.86,657.68 615.46,657.68 612.66,662.58" fill="#31b57b" fill-opacity="0.85"/>
<polygon points="610.46,656.02 616.06,656.02 613.26,660.92" fill="#2eb37c" fill-opacity="0.85"/>
<polygon points="610.74,655.07 616.34,655.07 613.54,659.97" fill="#2db27d" fill-opacity="0.85"/>
<polygon points="611.05,658.45 616.65,658.45 613.85,663.35" fill="#2ab07f" fill-opacity="0.85"/>
<polygon points="611.64,654.57 617.24,654.57 614.44,659.47" fill="#26ad81" fill-opacity="0.85"/>
<polygon points="612.23,652.27 617.83,652.27 615.03,657.17" fill="#23a983" fill-opacity="0.85"/>
<polygon points="612.78,652.55 618.38,652.55 615.58,657.45" fill="#21a585" fill-opacity="0.85"/>
<polygon points="612.82,655.77 618.42,655.77 615.62,660.67" fill="#21a585" fill-opacity="0.85"/>
<polygon points="613.29,652.08 618.89,652.08 616.09,656.98" fill="#1fa287" fill-opacity="0.85"/>
<polygon points="613.41,653.35 619.01,653.35 616.21,658.25" fill="#1fa187" fill-opacity="0.85"/>
<polygon points="613.8,651.6 619.4,651.6 616.6,656.5" fill="#1fa088" fill-opacity="0.85"/>
<polygon points="614,655 619.6,655 616.8,659.9" fill="#1f9e89" fill-opacity="0.85"/>
<polygon points="614.31,651.13 619.91,651.13 617.11,656.03" fill="#1e9c89" fill-opacity="0.85"/>
<polygon points="614.59,655 620.19,655 617.39,659.9" fill="#1e9b8a" fill-opacity="0.85"/>
<polygon points="614.82,650.65 620.42,650.65 617.62,655.55" fill="#1f998a" fill-opacity="0.85"/>
<polygon points="615.18,652.96 620.78,652.96 617.98,657.86" fill="#1f978b" fill-opacity="0.85"/>
<polygon points="615.34,650.18 620.94,650.18 618.14,655.08" fill="#1f968b" fill-opacity="0.85"/>
<polygon points="615.77,653.47 621.37,653.47 618.57,658.37" fill="#20938c" fill-opacity="0.85"/>
<polygon points="615.85,649.7 621.45,649.7 618.65,654.6" fill="#20928c" fill-opacity="0.85"/>
<polygon points="616.36,649.23 621.96,649.23 619.16,654.13" fill="#21908d" fill-opacity="0.85"/>
<polygon points="616.36,652.65 621.96,652.65 619.16,657.55" fill="#21908d" fill-opacity="0.85"/>
<polygon points="616.87,648.76 622.47,648.76 619.67,653.66" fill="#228d8d" fill-opacity="0.85"/>
<polygon points="616.95,651.42 622.55,651.42 619.75,656.32" fill="#228c8d" fill-opacity="0.85"/>
<polygon points="617.38,648.43 622.98,648.43 620.18,653.33" fill="#23898e" fill-opacity="0.85"/>
<polygon points="617.54,651.23 623.14,651.23 620.34,656.13" fill="#23888e" fill-opacity="0.85"/>
<polygon points="617.89,648.11 623.49,648.11 620.69,653.01" fill="#24868e" fill-opacity="0.85"/>
<polygon points="618.13,649.08 623.73,649.08 620.93,653.98" fill="#25858e" fill-opacity="0.85"/>
<polygon points="618.4,647.79 624,647.79 621.2,652.69" fill="#25838e" fill-opacity="0.85"/>
<polygon points="618.72,649 624.32,649 621.52,653.9" fill="#26828e" fill-opacity="0.85"/>
<polygon points="618.91,647.47 624.51,647.47 621.71,652.37" fill="#27808e" fill-opacity="0.85"/>
<polygon points="619.31,649.03 624.91,649.03 622.11,653.93" fill="#277e8e" fill-opacity="0.85"/>
<polygon points="619.42,647.15 625.02,647.15 622.22,652.05" fill="#287d8e" fill-opacity="0.85"/>
<polygon points="619.9,648.76 625.5,648.76 622.7,653.66" fill="#297a8e" fill-opacity="0.85"/>
<polygon points="619.93,646.83 625.53,646.83 622.73,651.73" fill="#29798e" fill-opacity="0.85"/>
<polygon points="620.44,646.5 626.04,646.5 623.24,651.4" fill="#2a768e" fill-opacity="0.85"/>
<polygon points="620.49,649.31 626.09,649.31 623.29,654.21" fill="#2b758e" fill-opacity="0.85"/>
<polygon points="620.96,646.18 626.56,646.18 623.76,651.08" fill="#2c728e" fill-opacity="0.85"/>
<polygon points="621.09,648.42 626.69,648.42 623.89,653.32" fill="#2c718e" fill-opacity="0.85"/>
<polygon points="621.47,645.81 627.07,645.81 624.27,650.71" fill="#2e6f8e" fill-opacity="0.85"/>
<polygon points="621.68,647.48 627.28,647.48 624.48,652.38" fill="#2e6e8e" fill-opacity="0.85"/>
<polygon points="621.98,645.44 627.58,645.44 624.78,650.34" fill="#2f6b8e" fill-opacity="0.85"/>
<polygon points="622.27,647.18 627.87,647.18 625.07,652.08" fill="#30698e" fill-opacity="0.85"/>
<polygon points="622.49,645.06 628.09,645.06 625.29,649.96" fill="#31688e" fill-opacity="0.85"/>
<polygon points="622.86,647.23 628.46,647.23 625.66,652.13" fill="#32658e" fill-opacity="0.85"/>
<polygon points="623,644.69 628.6,644.69 625.8,649.59" fill="#32648e" fill-opacity="0.85"/>
<polygon points="623.45,645.31 629.05,645.31 626.25,650.21" fill="#34618d" fill-opacity="0.85"/>
<polygon points="623.51,644.32 629.11,644.32 626.31,649.22" fill="#34608d" fill-opacity="0.85"/>
<polygon points="624.02,643.95 629.62,643.95 626.82,648.85" fill="#365c8d" fill-opacity="0.85"/>
<polygon points="624.04,643.8 629.64,643.8 626.84,648.7" fill="#365c8d" fill-opacity="0.85"/>
<polygon points="624.53,643.57 630.13,643.57 627.33,648.47" fill="#39568c" fill-opacity="0.85"/>
<polygon points="624.63,646.69 630.23,646.69 627.43,651.59" fill="#3a548c" fill-opacity="0.85"/>
<polygon points="625.04,643.2 630.64,643.2 627.84,648.1" fill="#3d4e8a" fill-opacity="0.85"/>
<polygon points="625.22,644.15 630.82,644.15 628.02,649.05" fill="#3e4a89" fill-opacity="0.85"/>
<polygon points="625.45,643.03 631.05,643.03 628.25,647.93" fill="#404688" fill-opacity="0.85"/>
<polygon points="625.81,645.37 631.41,645.37 628.61,650.27" fill="#423f85" fill-opacity="0.85"/>
<polygon points="625.86,642.87 631.46,642.87 628.66,647.77" fill="#423f85" fill-opacity="0.85"/>
<polygon points="626.27,642.7 631.87,642.7 629.07,647.6" fill="#453781" fill-opacity="0.85"/>
<polygon points="626.4,644.68 632,644.68 629.2,649.58" fill="#463480" fill-opacity="0.85"/>
<polygon points="626.68,642.53 632.28,642.53 629.48,647.43" fill="#46337f" fill-opacity="0.85"/>
<line x1="502.15" y1="750.36" x2="629.48" y2="644.5" stroke="#e9a12b" stroke-width="1.35" stroke-dasharray="4.1 1.8"/>
</g>
<rect x="496" y="640.4" width="139" height="118.2" fill="none" stroke="#9a9a9a" stroke-width="1.3"/>
<line x1="494.2" y1="646.2" x2="496" y2="646.2" stroke="#888" stroke-width="0.8"/>
<text x="495.1" y="651.6" font-size="16" text-anchor="end" fill="#000">1.0</text>
<line x1="494.2" y1="703.2" x2="496" y2="703.2" stroke="#888" stroke-width="0.8"/>
<text x="495.1" y="708.6" font-size="16" text-anchor="end" fill="#000">0.9</text>
<line x1="559.6" y1="758.6" x2="559.6" y2="760.4" stroke="#888" stroke-width="0.8"/>
<text x="559.6" y="771.2" font-size="16" text-anchor="middle" fill="#000">0.9</text>
<line x1="629.2" y1="758.6" x2="629.2" y2="760.4" stroke="#888" stroke-width="0.8"/>
<text x="629.2" y="771.2" font-size="16" text-anchor="middle" fill="#000">1.0</text>
<text x="565.5" y="785" font-size="15.7" text-anchor="middle" fill="#000">Ground Truth of SOH</text>
<text x="472" y="699.5" font-size="15.7" text-anchor="middle" fill="#000" transform="rotate(-90 472 699.5)">Prediction of SOH</text>
<rect x="501.8" y="646.4" width="66" height="18.8" rx="2" ry="2" fill="#fff" fill-opacity="0.8" stroke="#e6e6e6" stroke-width="0.8"/>
<line x1="506.4" y1="654.8" x2="529.4" y2="654.8" stroke="#e9a12b" stroke-width="1.6" stroke-dasharray="4.5 1.55" stroke-opacity="0.85"/>
<text x="539" y="658.6" font-size="11.2" text-anchor="start" fill="#000">Truth</text>
<defs><linearGradient id="gj" x1="0" y1="1" x2="0" y2="0">
<stop offset="0" stop-color="#440154"/>
<stop offset="0.05" stop-color="#471365"/>
<stop offset="0.1" stop-color="#482475"/>
<stop offset="0.15" stop-color="#463480"/>
<stop offset="0.2" stop-color="#414487"/>
<stop offset="0.25" stop-color="#3b528b"/>
<stop offset="0.3" stop-color="#355f8d"/>
<stop offset="0.35" stop-color="#2f6c8e"/>
<stop offset="0.4" stop-color="#2a788e"/>
<stop offset="0.45" stop-color="#25848e"/>
<stop offset="0.5" stop-color="#21918c"/>
<stop offset="0.55" stop-color="#1e9c89"/>
<stop offset="0.6" stop-color="#22a884"/>
<stop offset="0.65" stop-color="#2fb47c"/>
<stop offset="0.7" stop-color="#44bf70"/>
<stop offset="0.75" stop-color="#5ec962"/>
<stop offset="0.8" stop-color="#7ad151"/>
<stop offset="0.85" stop-color="#9bd93c"/>
<stop offset="0.9" stop-color="#bddf26"/>
<stop offset="0.95" stop-color="#dfe318"/>
<stop offset="1" stop-color="#fde725"/>
</linearGradient></defs>
<rect x="644.4" y="641.6" width="6" height="116.8" fill="url(#gj)" stroke="#999" stroke-width="0.5" fill-opacity="0.9"/>
<line x1="650.4" y1="735.04" x2="651.6" y2="735.04" stroke="#666" stroke-width="0.6"/>
<text x="652.2" y="738.84" font-size="11" text-anchor="start" fill="#000">200</text>
<line x1="650.4" y1="711.68" x2="651.6" y2="711.68" stroke="#666" stroke-width="0.6"/>
<text x="652.2" y="715.48" font-size="11" text-anchor="start" fill="#000">400</text>
<line x1="650.4" y1="688.32" x2="651.6" y2="688.32" stroke="#666" stroke-width="0.6"/>
<text x="652.2" y="692.12" font-size="11" text-anchor="start" fill="#000">600</text>
<line x1="650.4" y1="664.96" x2="651.6" y2="664.96" stroke="#666" stroke-width="0.6"/>
<text x="652.2" y="668.76" font-size="11" text-anchor="start" fill="#000">800</text>
<line x1="650.4" y1="641.6" x2="651.6" y2="641.6" stroke="#666" stroke-width="0.6"/>
<text x="652.2" y="645.4" font-size="11" text-anchor="start" fill="#000">1000</text>
<text x="681.1" y="700" font-size="11.2" text-anchor="middle" fill="#000" transform="rotate(-90 681.1 700)">Cycle</text>
<text x="564.5" y="811.8" font-size="22.5" text-anchor="middle" fill="#000">(j)</text>
</svg></body></html>
